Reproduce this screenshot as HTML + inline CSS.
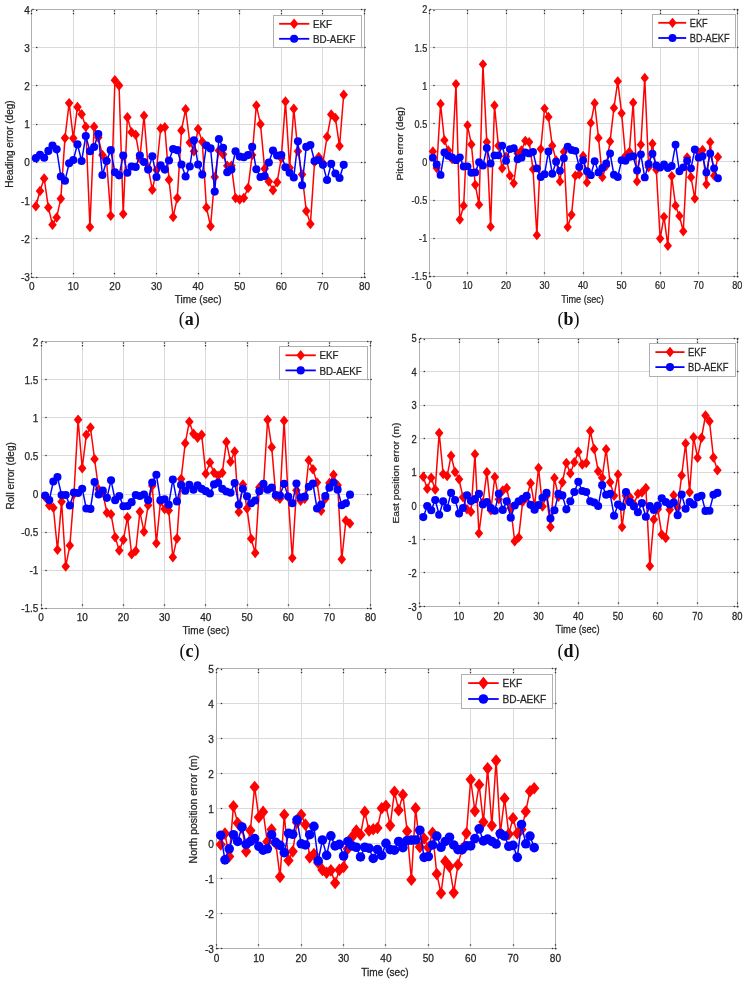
<!DOCTYPE html>
<html lang="en">
<head>
<meta charset="utf-8">
<title>EKF vs BD-AEKF error plots</title>
<style>html,body{margin:0;padding:0;background:#fff}svg{display:block}</style>
</head>
<body>
<svg width="748" height="982" viewBox="0 0 748 982">
<rect x="0" y="0" width="748" height="982" fill="#ffffff"/>
<g opacity="0.999">
<g id="plot-a">
<path d="M73.5 9.5V277M114.5 9.5V277M156.5 9.5V277M198.5 9.5V277M239.5 9.5V277M281.5 9.5V277M322.5 9.5V277M31.7 238.5H364.5M31.7 200.5H364.5M31.7 162.5H364.5M31.7 124.5H364.5M31.7 85.5H364.5M31.7 47.5H364.5" stroke="#dadada" stroke-width="1" fill="none"/>
<rect x="31.5" y="9.5" width="333" height="268" fill="none" stroke="#b0b0b0" stroke-width="1"/>
<g fill="#2e2e2e"><rect x="30.85" y="10.25" width="1.3" height="1.3"/><rect x="30.85" y="12.95" width="1.3" height="1.3"/><rect x="30.85" y="272.95" width="1.3" height="1.3"/><rect x="30.85" y="276.65" width="1.3" height="1.3"/><rect x="72.85" y="10.25" width="1.3" height="1.3"/><rect x="72.85" y="12.95" width="1.3" height="1.3"/><rect x="72.85" y="272.95" width="1.3" height="1.3"/><rect x="113.85" y="10.25" width="1.3" height="1.3"/><rect x="113.85" y="12.95" width="1.3" height="1.3"/><rect x="113.85" y="272.95" width="1.3" height="1.3"/><rect x="155.85" y="10.25" width="1.3" height="1.3"/><rect x="155.85" y="12.95" width="1.3" height="1.3"/><rect x="155.85" y="272.95" width="1.3" height="1.3"/><rect x="197.85" y="10.25" width="1.3" height="1.3"/><rect x="197.85" y="12.95" width="1.3" height="1.3"/><rect x="197.85" y="272.95" width="1.3" height="1.3"/><rect x="238.85" y="10.25" width="1.3" height="1.3"/><rect x="238.85" y="12.95" width="1.3" height="1.3"/><rect x="238.85" y="272.95" width="1.3" height="1.3"/><rect x="280.85" y="10.25" width="1.3" height="1.3"/><rect x="280.85" y="12.95" width="1.3" height="1.3"/><rect x="280.85" y="272.95" width="1.3" height="1.3"/><rect x="321.85" y="10.25" width="1.3" height="1.3"/><rect x="321.85" y="12.95" width="1.3" height="1.3"/><rect x="321.85" y="272.95" width="1.3" height="1.3"/><rect x="363.85" y="10.25" width="1.3" height="1.3"/><rect x="363.85" y="12.95" width="1.3" height="1.3"/><rect x="363.85" y="272.95" width="1.3" height="1.3"/><rect x="363.85" y="276.65" width="1.3" height="1.3"/><rect x="36.05" y="276.85" width="1.3" height="1.3"/><rect x="32.35" y="276.85" width="1.3" height="1.3"/><rect x="360.95" y="276.85" width="1.3" height="1.3"/><rect x="364.35" y="276.85" width="1.3" height="1.3"/><rect x="36.05" y="237.85" width="1.3" height="1.3"/><rect x="360.95" y="237.85" width="1.3" height="1.3"/><rect x="364.35" y="237.85" width="1.3" height="1.3"/><rect x="36.05" y="199.85" width="1.3" height="1.3"/><rect x="360.95" y="199.85" width="1.3" height="1.3"/><rect x="364.35" y="199.85" width="1.3" height="1.3"/><rect x="36.05" y="161.85" width="1.3" height="1.3"/><rect x="360.95" y="161.85" width="1.3" height="1.3"/><rect x="364.35" y="161.85" width="1.3" height="1.3"/><rect x="36.05" y="123.85" width="1.3" height="1.3"/><rect x="360.95" y="123.85" width="1.3" height="1.3"/><rect x="364.35" y="123.85" width="1.3" height="1.3"/><rect x="36.05" y="84.85" width="1.3" height="1.3"/><rect x="360.95" y="84.85" width="1.3" height="1.3"/><rect x="364.35" y="84.85" width="1.3" height="1.3"/><rect x="36.05" y="46.85" width="1.3" height="1.3"/><rect x="360.95" y="46.85" width="1.3" height="1.3"/><rect x="364.35" y="46.85" width="1.3" height="1.3"/><rect x="36.05" y="9.85" width="1.3" height="1.3"/><rect x="32.35" y="8.85" width="1.3" height="1.3"/><rect x="360.95" y="8.85" width="1.3" height="1.3"/><rect x="364.35" y="8.85" width="1.3" height="1.3"/></g>
<text transform="translate(31.7 289.6) scale(1.000 1.000)" font-family='"Liberation Sans", Arial, Helvetica, sans-serif' font-size="10" font-weight="normal" text-anchor="middle" fill="#262626" stroke="#262626" stroke-width="0.25">0</text>
<text transform="translate(73.3 289.6) scale(1.000 1.000)" font-family='"Liberation Sans", Arial, Helvetica, sans-serif' font-size="10" font-weight="normal" text-anchor="middle" fill="#262626" stroke="#262626" stroke-width="0.25">10</text>
<text transform="translate(114.9 289.6) scale(1.000 1.000)" font-family='"Liberation Sans", Arial, Helvetica, sans-serif' font-size="10" font-weight="normal" text-anchor="middle" fill="#262626" stroke="#262626" stroke-width="0.25">20</text>
<text transform="translate(156.5 289.6) scale(1.000 1.000)" font-family='"Liberation Sans", Arial, Helvetica, sans-serif' font-size="10" font-weight="normal" text-anchor="middle" fill="#262626" stroke="#262626" stroke-width="0.25">30</text>
<text transform="translate(198.1 289.6) scale(1.000 1.000)" font-family='"Liberation Sans", Arial, Helvetica, sans-serif' font-size="10" font-weight="normal" text-anchor="middle" fill="#262626" stroke="#262626" stroke-width="0.25">40</text>
<text transform="translate(239.7 289.6) scale(1.000 1.000)" font-family='"Liberation Sans", Arial, Helvetica, sans-serif' font-size="10" font-weight="normal" text-anchor="middle" fill="#262626" stroke="#262626" stroke-width="0.25">50</text>
<text transform="translate(281.3 289.6) scale(1.000 1.000)" font-family='"Liberation Sans", Arial, Helvetica, sans-serif' font-size="10" font-weight="normal" text-anchor="middle" fill="#262626" stroke="#262626" stroke-width="0.25">60</text>
<text transform="translate(322.9 289.6) scale(1.000 1.000)" font-family='"Liberation Sans", Arial, Helvetica, sans-serif' font-size="10" font-weight="normal" text-anchor="middle" fill="#262626" stroke="#262626" stroke-width="0.25">70</text>
<text transform="translate(364.5 289.6) scale(1.000 1.000)" font-family='"Liberation Sans", Arial, Helvetica, sans-serif' font-size="10" font-weight="normal" text-anchor="middle" fill="#262626" stroke="#262626" stroke-width="0.25">80</text>
<text transform="translate(29.8 281.08) scale(1.000 1.000)" font-family='"Liberation Sans", Arial, Helvetica, sans-serif' font-size="10" font-weight="normal" text-anchor="end" fill="#262626" stroke="#262626" stroke-width="0.25">-3</text>
<text transform="translate(29.8 242.87) scale(1.000 1.000)" font-family='"Liberation Sans", Arial, Helvetica, sans-serif' font-size="10" font-weight="normal" text-anchor="end" fill="#262626" stroke="#262626" stroke-width="0.25">-2</text>
<text transform="translate(29.8 204.65) scale(1.000 1.000)" font-family='"Liberation Sans", Arial, Helvetica, sans-serif' font-size="10" font-weight="normal" text-anchor="end" fill="#262626" stroke="#262626" stroke-width="0.25">-1</text>
<text transform="translate(29.8 166.44) scale(1.000 1.000)" font-family='"Liberation Sans", Arial, Helvetica, sans-serif' font-size="10" font-weight="normal" text-anchor="end" fill="#262626" stroke="#262626" stroke-width="0.25">0</text>
<text transform="translate(29.8 128.22) scale(1.000 1.000)" font-family='"Liberation Sans", Arial, Helvetica, sans-serif' font-size="10" font-weight="normal" text-anchor="end" fill="#262626" stroke="#262626" stroke-width="0.25">1</text>
<text transform="translate(29.8 90.01) scale(1.000 1.000)" font-family='"Liberation Sans", Arial, Helvetica, sans-serif' font-size="10" font-weight="normal" text-anchor="end" fill="#262626" stroke="#262626" stroke-width="0.25">2</text>
<text transform="translate(29.8 51.79) scale(1.000 1.000)" font-family='"Liberation Sans", Arial, Helvetica, sans-serif' font-size="10" font-weight="normal" text-anchor="end" fill="#262626" stroke="#262626" stroke-width="0.25">3</text>
<text transform="translate(29.8 13.58) scale(1.000 1.000)" font-family='"Liberation Sans", Arial, Helvetica, sans-serif' font-size="10" font-weight="normal" text-anchor="end" fill="#262626" stroke="#262626" stroke-width="0.25">4</text>
<text transform="translate(198.1 302.9) scale(1.000 1.000)" font-family='"Liberation Sans", Arial, Helvetica, sans-serif' font-size="10" font-weight="normal" text-anchor="middle" fill="#262626" stroke="#262626" stroke-width="0.25">Time (sec)</text>
<text transform="translate(13.2 144.05) rotate(-90) scale(1.000 1.000)" font-family='"Liberation Sans", Arial, Helvetica, sans-serif' font-size="10" text-anchor="middle" fill="#262626" stroke="#262626" stroke-width="0.25">Heading error (deg)</text>
<polyline points="35.86,206.3 40.02,191.02 44.18,178.41 48.34,207.45 52.5,224.84 56.66,217.39 60.82,198.66 64.98,137.9 69.14,103.12 73.3,138.28 77.46,106.95 81.62,114.21 85.78,126.82 89.94,226.94 94.1,126.82 98.26,137.52 102.42,155.1 106.58,160.45 110.74,215.86 114.9,80.2 119.06,85.55 123.22,213.95 127.38,117.26 131.54,132.17 135.7,134.84 139.86,158.54 144.02,115.74 148.18,168.09 152.34,189.87 156.5,170 160.66,128.54 164.82,127.2 168.98,179.74 173.14,217 177.3,197.9 181.46,130.45 185.62,109.24 189.78,142.49 193.94,151.27 198.1,129.11 202.26,141.72 206.42,207.45 210.58,226.37 214.74,177.07 218.9,150.51 223.06,154.33 227.22,165.8 231.38,165.8 235.54,197.9 239.7,199.42 243.86,197.9 248.02,187.96 252.18,155.1 256.34,105.42 260.5,124.14 264.66,168.85 268.82,181.46 272.98,190.25 277.14,182.23 281.3,158.15 285.46,101.6 289.62,167.71 293.78,108.86 297.94,151.27 302.1,174.59 306.26,210.89 310.42,223.88 314.58,161.98 318.74,157.01 322.9,163.12 327.06,136.75 331.22,114.59 335.38,118.03 339.54,146.12 343.7,94.72" fill="none" stroke="#ff0000" stroke-width="1.5" stroke-linejoin="round"/>
<path d="M35.86 201.05L40.13 206.3L35.86 211.55L31.59 206.3Z" fill="#ff0000"/><path d="M40.02 185.77L44.29 191.02L40.02 196.27L35.74 191.02Z" fill="#ff0000"/><path d="M44.18 173.16L48.45 178.41L44.18 183.66L39.91 178.41Z" fill="#ff0000"/><path d="M48.34 202.2L52.62 207.45L48.34 212.7L44.07 207.45Z" fill="#ff0000"/><path d="M52.5 219.59L56.77 224.84L52.5 230.09L48.23 224.84Z" fill="#ff0000"/><path d="M56.66 212.14L60.93 217.39L56.66 222.64L52.38 217.39Z" fill="#ff0000"/><path d="M60.82 193.41L65.09 198.66L60.82 203.91L56.54 198.66Z" fill="#ff0000"/><path d="M64.98 132.65L69.26 137.9L64.98 143.15L60.71 137.9Z" fill="#ff0000"/><path d="M69.14 97.88L73.42 103.12L69.14 108.38L64.86 103.12Z" fill="#ff0000"/><path d="M73.3 133.03L77.58 138.28L73.3 143.53L69.02 138.28Z" fill="#ff0000"/><path d="M77.46 101.7L81.74 106.95L77.46 112.2L73.19 106.95Z" fill="#ff0000"/><path d="M81.62 108.96L85.9 114.21L81.62 119.46L77.34 114.21Z" fill="#ff0000"/><path d="M85.78 121.57L90.06 126.82L85.78 132.07L81.5 126.82Z" fill="#ff0000"/><path d="M89.94 221.69L94.22 226.94L89.94 232.19L85.66 226.94Z" fill="#ff0000"/><path d="M94.1 121.57L98.38 126.82L94.1 132.07L89.82 126.82Z" fill="#ff0000"/><path d="M98.26 132.27L102.54 137.52L98.26 142.77L93.98 137.52Z" fill="#ff0000"/><path d="M102.42 149.85L106.7 155.1L102.42 160.35L98.14 155.1Z" fill="#ff0000"/><path d="M106.58 155.2L110.86 160.45L106.58 165.7L102.31 160.45Z" fill="#ff0000"/><path d="M110.74 210.61L115.02 215.86L110.74 221.11L106.46 215.86Z" fill="#ff0000"/><path d="M114.9 74.95L119.18 80.2L114.9 85.45L110.62 80.2Z" fill="#ff0000"/><path d="M119.06 80.3L123.34 85.55L119.06 90.8L114.78 85.55Z" fill="#ff0000"/><path d="M123.22 208.7L127.5 213.95L123.22 219.2L118.95 213.95Z" fill="#ff0000"/><path d="M127.38 112.01L131.66 117.26L127.38 122.51L123.11 117.26Z" fill="#ff0000"/><path d="M131.54 126.92L135.81 132.17L131.54 137.42L127.26 132.17Z" fill="#ff0000"/><path d="M135.7 129.59L139.97 134.84L135.7 140.09L131.42 134.84Z" fill="#ff0000"/><path d="M139.86 153.29L144.14 158.54L139.86 163.79L135.59 158.54Z" fill="#ff0000"/><path d="M144.02 110.49L148.3 115.74L144.02 120.99L139.75 115.74Z" fill="#ff0000"/><path d="M148.18 162.84L152.45 168.09L148.18 173.34L143.9 168.09Z" fill="#ff0000"/><path d="M152.34 184.62L156.62 189.87L152.34 195.12L148.06 189.87Z" fill="#ff0000"/><path d="M156.5 164.75L160.78 170L156.5 175.25L152.22 170Z" fill="#ff0000"/><path d="M160.66 123.29L164.94 128.54L160.66 133.79L156.38 128.54Z" fill="#ff0000"/><path d="M164.82 121.95L169.09 127.2L164.82 132.45L160.54 127.2Z" fill="#ff0000"/><path d="M168.98 174.49L173.25 179.74L168.98 184.99L164.7 179.74Z" fill="#ff0000"/><path d="M173.14 211.75L177.41 217L173.14 222.25L168.86 217Z" fill="#ff0000"/><path d="M177.3 192.65L181.57 197.9L177.3 203.15L173.02 197.9Z" fill="#ff0000"/><path d="M181.46 125.2L185.74 130.45L181.46 135.7L177.19 130.45Z" fill="#ff0000"/><path d="M185.62 103.99L189.9 109.24L185.62 114.49L181.34 109.24Z" fill="#ff0000"/><path d="M189.78 137.24L194.05 142.49L189.78 147.74L185.5 142.49Z" fill="#ff0000"/><path d="M193.94 146.02L198.22 151.27L193.94 156.52L189.66 151.27Z" fill="#ff0000"/><path d="M198.1 123.86L202.38 129.11L198.1 134.36L193.82 129.11Z" fill="#ff0000"/><path d="M202.26 136.47L206.53 141.72L202.26 146.97L197.98 141.72Z" fill="#ff0000"/><path d="M206.42 202.2L210.69 207.45L206.42 212.7L202.14 207.45Z" fill="#ff0000"/><path d="M210.58 221.12L214.85 226.37L210.58 231.62L206.3 226.37Z" fill="#ff0000"/><path d="M214.74 171.82L219.02 177.07L214.74 182.32L210.47 177.07Z" fill="#ff0000"/><path d="M218.9 145.26L223.17 150.51L218.9 155.76L214.62 150.51Z" fill="#ff0000"/><path d="M223.06 149.08L227.34 154.33L223.06 159.58L218.78 154.33Z" fill="#ff0000"/><path d="M227.22 160.55L231.5 165.8L227.22 171.05L222.94 165.8Z" fill="#ff0000"/><path d="M231.38 160.55L235.66 165.8L231.38 171.05L227.1 165.8Z" fill="#ff0000"/><path d="M235.54 192.65L239.81 197.9L235.54 203.15L231.26 197.9Z" fill="#ff0000"/><path d="M239.7 194.17L243.97 199.42L239.7 204.67L235.42 199.42Z" fill="#ff0000"/><path d="M243.86 192.65L248.13 197.9L243.86 203.15L239.58 197.9Z" fill="#ff0000"/><path d="M248.02 182.71L252.3 187.96L248.02 193.21L243.75 187.96Z" fill="#ff0000"/><path d="M252.18 149.85L256.45 155.1L252.18 160.35L247.91 155.1Z" fill="#ff0000"/><path d="M256.34 100.17L260.62 105.42L256.34 110.67L252.07 105.42Z" fill="#ff0000"/><path d="M260.5 118.89L264.77 124.14L260.5 129.39L256.23 124.14Z" fill="#ff0000"/><path d="M264.66 163.6L268.93 168.85L264.66 174.1L260.38 168.85Z" fill="#ff0000"/><path d="M268.82 176.21L273.1 181.46L268.82 186.71L264.55 181.46Z" fill="#ff0000"/><path d="M272.98 185L277.25 190.25L272.98 195.5L268.71 190.25Z" fill="#ff0000"/><path d="M277.14 176.98L281.41 182.23L277.14 187.48L272.87 182.23Z" fill="#ff0000"/><path d="M281.3 152.9L285.57 158.15L281.3 163.4L277.03 158.15Z" fill="#ff0000"/><path d="M285.46 96.35L289.73 101.6L285.46 106.85L281.19 101.6Z" fill="#ff0000"/><path d="M289.62 162.46L293.89 167.71L289.62 172.96L285.35 167.71Z" fill="#ff0000"/><path d="M293.78 103.61L298.06 108.86L293.78 114.11L289.51 108.86Z" fill="#ff0000"/><path d="M297.94 146.02L302.21 151.27L297.94 156.52L293.67 151.27Z" fill="#ff0000"/><path d="M302.1 169.34L306.37 174.59L302.1 179.84L297.82 174.59Z" fill="#ff0000"/><path d="M306.26 205.64L310.53 210.89L306.26 216.14L301.99 210.89Z" fill="#ff0000"/><path d="M310.42 218.63L314.69 223.88L310.42 229.13L306.15 223.88Z" fill="#ff0000"/><path d="M314.58 156.73L318.85 161.98L314.58 167.23L310.31 161.98Z" fill="#ff0000"/><path d="M318.74 151.76L323.01 157.01L318.74 162.26L314.47 157.01Z" fill="#ff0000"/><path d="M322.9 157.87L327.17 163.12L322.9 168.37L318.62 163.12Z" fill="#ff0000"/><path d="M327.06 131.5L331.33 136.75L327.06 142L322.79 136.75Z" fill="#ff0000"/><path d="M331.22 109.34L335.5 114.59L331.22 119.84L326.95 114.59Z" fill="#ff0000"/><path d="M335.38 112.78L339.65 118.03L335.38 123.28L331.11 118.03Z" fill="#ff0000"/><path d="M339.54 140.87L343.81 146.12L339.54 151.37L335.27 146.12Z" fill="#ff0000"/><path d="M343.7 89.47L347.97 94.72L343.7 99.97L339.43 94.72Z" fill="#ff0000"/>
<polyline points="35.86,158.15 40.02,154.71 44.18,157.77 48.34,150.89 52.5,145.54 56.66,149.36 60.82,176.5 64.98,180.7 69.14,163.31 73.3,160.06 77.46,144.4 81.62,161.02 85.78,135.99 89.94,151.27 94.1,147.07 98.26,134.08 102.42,174.97 106.58,161.02 110.74,150.13 114.9,172.29 119.06,175.35 123.22,155.48 127.38,172.68 131.54,166.56 135.7,166.94 139.86,155.48 144.02,161.98 148.18,169.62 152.34,156.24 156.5,177.07 160.66,165.41 164.82,169.62 168.98,160.45 173.14,148.98 177.3,150.13 181.46,164.46 185.62,176.5 189.78,166.56 193.94,140.19 198.1,164.46 202.26,174.59 206.42,145.54 210.58,148.41 214.74,191.59 218.9,139.05 223.06,147.84 227.22,172.29 231.38,169.62 235.54,151.27 239.7,156.62 243.86,157.2 248.02,155.1 252.18,146.88 256.34,169.24 260.5,177.07 264.66,176.11 268.82,162.55 272.98,150.51 277.14,155.48 281.3,155.1 285.46,167.32 289.62,172.68 293.78,177.45 297.94,141.34 302.1,185.29 306.26,146.88 310.42,144.97 314.58,161.02 318.74,160.06 322.9,164.84 327.06,179.94 331.22,163.89 335.38,173.44 339.54,178.03 343.7,164.84" fill="none" stroke="#0000ff" stroke-width="1.5" stroke-linejoin="round"/>
<circle cx="35.86" cy="158.15" r="4.05" fill="#0000ff"/><circle cx="40.02" cy="154.71" r="4.05" fill="#0000ff"/><circle cx="44.18" cy="157.77" r="4.05" fill="#0000ff"/><circle cx="48.34" cy="150.89" r="4.05" fill="#0000ff"/><circle cx="52.5" cy="145.54" r="4.05" fill="#0000ff"/><circle cx="56.66" cy="149.36" r="4.05" fill="#0000ff"/><circle cx="60.82" cy="176.5" r="4.05" fill="#0000ff"/><circle cx="64.98" cy="180.7" r="4.05" fill="#0000ff"/><circle cx="69.14" cy="163.31" r="4.05" fill="#0000ff"/><circle cx="73.3" cy="160.06" r="4.05" fill="#0000ff"/><circle cx="77.46" cy="144.4" r="4.05" fill="#0000ff"/><circle cx="81.62" cy="161.02" r="4.05" fill="#0000ff"/><circle cx="85.78" cy="135.99" r="4.05" fill="#0000ff"/><circle cx="89.94" cy="151.27" r="4.05" fill="#0000ff"/><circle cx="94.1" cy="147.07" r="4.05" fill="#0000ff"/><circle cx="98.26" cy="134.08" r="4.05" fill="#0000ff"/><circle cx="102.42" cy="174.97" r="4.05" fill="#0000ff"/><circle cx="106.58" cy="161.02" r="4.05" fill="#0000ff"/><circle cx="110.74" cy="150.13" r="4.05" fill="#0000ff"/><circle cx="114.9" cy="172.29" r="4.05" fill="#0000ff"/><circle cx="119.06" cy="175.35" r="4.05" fill="#0000ff"/><circle cx="123.22" cy="155.48" r="4.05" fill="#0000ff"/><circle cx="127.38" cy="172.68" r="4.05" fill="#0000ff"/><circle cx="131.54" cy="166.56" r="4.05" fill="#0000ff"/><circle cx="135.7" cy="166.94" r="4.05" fill="#0000ff"/><circle cx="139.86" cy="155.48" r="4.05" fill="#0000ff"/><circle cx="144.02" cy="161.98" r="4.05" fill="#0000ff"/><circle cx="148.18" cy="169.62" r="4.05" fill="#0000ff"/><circle cx="152.34" cy="156.24" r="4.05" fill="#0000ff"/><circle cx="156.5" cy="177.07" r="4.05" fill="#0000ff"/><circle cx="160.66" cy="165.41" r="4.05" fill="#0000ff"/><circle cx="164.82" cy="169.62" r="4.05" fill="#0000ff"/><circle cx="168.98" cy="160.45" r="4.05" fill="#0000ff"/><circle cx="173.14" cy="148.98" r="4.05" fill="#0000ff"/><circle cx="177.3" cy="150.13" r="4.05" fill="#0000ff"/><circle cx="181.46" cy="164.46" r="4.05" fill="#0000ff"/><circle cx="185.62" cy="176.5" r="4.05" fill="#0000ff"/><circle cx="189.78" cy="166.56" r="4.05" fill="#0000ff"/><circle cx="193.94" cy="140.19" r="4.05" fill="#0000ff"/><circle cx="198.1" cy="164.46" r="4.05" fill="#0000ff"/><circle cx="202.26" cy="174.59" r="4.05" fill="#0000ff"/><circle cx="206.42" cy="145.54" r="4.05" fill="#0000ff"/><circle cx="210.58" cy="148.41" r="4.05" fill="#0000ff"/><circle cx="214.74" cy="191.59" r="4.05" fill="#0000ff"/><circle cx="218.9" cy="139.05" r="4.05" fill="#0000ff"/><circle cx="223.06" cy="147.84" r="4.05" fill="#0000ff"/><circle cx="227.22" cy="172.29" r="4.05" fill="#0000ff"/><circle cx="231.38" cy="169.62" r="4.05" fill="#0000ff"/><circle cx="235.54" cy="151.27" r="4.05" fill="#0000ff"/><circle cx="239.7" cy="156.62" r="4.05" fill="#0000ff"/><circle cx="243.86" cy="157.2" r="4.05" fill="#0000ff"/><circle cx="248.02" cy="155.1" r="4.05" fill="#0000ff"/><circle cx="252.18" cy="146.88" r="4.05" fill="#0000ff"/><circle cx="256.34" cy="169.24" r="4.05" fill="#0000ff"/><circle cx="260.5" cy="177.07" r="4.05" fill="#0000ff"/><circle cx="264.66" cy="176.11" r="4.05" fill="#0000ff"/><circle cx="268.82" cy="162.55" r="4.05" fill="#0000ff"/><circle cx="272.98" cy="150.51" r="4.05" fill="#0000ff"/><circle cx="277.14" cy="155.48" r="4.05" fill="#0000ff"/><circle cx="281.3" cy="155.1" r="4.05" fill="#0000ff"/><circle cx="285.46" cy="167.32" r="4.05" fill="#0000ff"/><circle cx="289.62" cy="172.68" r="4.05" fill="#0000ff"/><circle cx="293.78" cy="177.45" r="4.05" fill="#0000ff"/><circle cx="297.94" cy="141.34" r="4.05" fill="#0000ff"/><circle cx="302.1" cy="185.29" r="4.05" fill="#0000ff"/><circle cx="306.26" cy="146.88" r="4.05" fill="#0000ff"/><circle cx="310.42" cy="144.97" r="4.05" fill="#0000ff"/><circle cx="314.58" cy="161.02" r="4.05" fill="#0000ff"/><circle cx="318.74" cy="160.06" r="4.05" fill="#0000ff"/><circle cx="322.9" cy="164.84" r="4.05" fill="#0000ff"/><circle cx="327.06" cy="179.94" r="4.05" fill="#0000ff"/><circle cx="331.22" cy="163.89" r="4.05" fill="#0000ff"/><circle cx="335.38" cy="173.44" r="4.05" fill="#0000ff"/><circle cx="339.54" cy="178.03" r="4.05" fill="#0000ff"/><circle cx="343.7" cy="164.84" r="4.05" fill="#0000ff"/>
<rect x="273.5" y="15.5" width="88" height="32" fill="#ffffff" stroke="#b0b0b0" stroke-width="1"/>
<path d="M279.1 23.8H309.3" stroke="#ff0000" stroke-width="1.8"/>
<path d="M294.1 18.55L298.38 23.8L294.1 29.05L289.83 23.8Z" fill="#ff0000"/>
<path d="M279.1 38.8H309.3" stroke="#0000ff" stroke-width="1.8"/>
<circle cx="294.1" cy="38.8" r="4.05" fill="#0000ff"/>
<text transform="translate(313 27.93) scale(0.980 1.000)" font-family='"Liberation Sans", Arial, Helvetica, sans-serif' font-size="10" font-weight="normal" text-anchor="start" fill="#262626" stroke="#262626" stroke-width="0.25">EKF</text>
<text transform="translate(313 42.93) scale(0.980 1.000)" font-family='"Liberation Sans", Arial, Helvetica, sans-serif' font-size="10" font-weight="normal" text-anchor="start" fill="#262626" stroke="#262626" stroke-width="0.25">BD-AEKF</text>
<text x="189.3" y="324.5" font-family='"Liberation Serif", "Times New Roman", serif' font-size="18" text-anchor="middle" fill="#111111">(<tspan font-weight="bold">a</tspan>)</text>
</g>
<g id="plot-b">
<path d="M467.5 9.3V276.4M506.5 9.3V276.4M544.5 9.3V276.4M583.5 9.3V276.4M621.5 9.3V276.4M660.5 9.3V276.4M698.5 9.3V276.4M429 238.5H737.2M429 200.5H737.2M429 161.5H737.2M429 123.5H737.2M429 85.5H737.2M429 47.5H737.2" stroke="#dadada" stroke-width="1" fill="none"/>
<rect x="429.5" y="9.5" width="308" height="267" fill="none" stroke="#b0b0b0" stroke-width="1"/>
<g fill="#2e2e2e"><rect x="428.85" y="10.05" width="1.3" height="1.3"/><rect x="428.85" y="12.75" width="1.3" height="1.3"/><rect x="428.85" y="272.35" width="1.3" height="1.3"/><rect x="428.85" y="276.05" width="1.3" height="1.3"/><rect x="466.85" y="10.05" width="1.3" height="1.3"/><rect x="466.85" y="12.75" width="1.3" height="1.3"/><rect x="466.85" y="272.35" width="1.3" height="1.3"/><rect x="505.85" y="10.05" width="1.3" height="1.3"/><rect x="505.85" y="12.75" width="1.3" height="1.3"/><rect x="505.85" y="272.35" width="1.3" height="1.3"/><rect x="543.85" y="10.05" width="1.3" height="1.3"/><rect x="543.85" y="12.75" width="1.3" height="1.3"/><rect x="543.85" y="272.35" width="1.3" height="1.3"/><rect x="582.85" y="10.05" width="1.3" height="1.3"/><rect x="582.85" y="12.75" width="1.3" height="1.3"/><rect x="582.85" y="272.35" width="1.3" height="1.3"/><rect x="620.85" y="10.05" width="1.3" height="1.3"/><rect x="620.85" y="12.75" width="1.3" height="1.3"/><rect x="620.85" y="272.35" width="1.3" height="1.3"/><rect x="659.85" y="10.05" width="1.3" height="1.3"/><rect x="659.85" y="12.75" width="1.3" height="1.3"/><rect x="659.85" y="272.35" width="1.3" height="1.3"/><rect x="697.85" y="10.05" width="1.3" height="1.3"/><rect x="697.85" y="12.75" width="1.3" height="1.3"/><rect x="697.85" y="272.35" width="1.3" height="1.3"/><rect x="736.85" y="10.05" width="1.3" height="1.3"/><rect x="736.85" y="12.75" width="1.3" height="1.3"/><rect x="736.85" y="272.35" width="1.3" height="1.3"/><rect x="736.85" y="276.05" width="1.3" height="1.3"/><rect x="433.35" y="275.85" width="1.3" height="1.3"/><rect x="429.65" y="275.85" width="1.3" height="1.3"/><rect x="733.65" y="275.85" width="1.3" height="1.3"/><rect x="737.05" y="275.85" width="1.3" height="1.3"/><rect x="433.35" y="237.85" width="1.3" height="1.3"/><rect x="733.65" y="237.85" width="1.3" height="1.3"/><rect x="737.05" y="237.85" width="1.3" height="1.3"/><rect x="433.35" y="199.85" width="1.3" height="1.3"/><rect x="733.65" y="199.85" width="1.3" height="1.3"/><rect x="737.05" y="199.85" width="1.3" height="1.3"/><rect x="433.35" y="160.85" width="1.3" height="1.3"/><rect x="733.65" y="160.85" width="1.3" height="1.3"/><rect x="737.05" y="160.85" width="1.3" height="1.3"/><rect x="433.35" y="122.85" width="1.3" height="1.3"/><rect x="733.65" y="122.85" width="1.3" height="1.3"/><rect x="737.05" y="122.85" width="1.3" height="1.3"/><rect x="433.35" y="84.85" width="1.3" height="1.3"/><rect x="733.65" y="84.85" width="1.3" height="1.3"/><rect x="737.05" y="84.85" width="1.3" height="1.3"/><rect x="433.35" y="46.85" width="1.3" height="1.3"/><rect x="733.65" y="46.85" width="1.3" height="1.3"/><rect x="737.05" y="46.85" width="1.3" height="1.3"/><rect x="433.35" y="9.85" width="1.3" height="1.3"/><rect x="429.65" y="8.85" width="1.3" height="1.3"/><rect x="733.65" y="8.85" width="1.3" height="1.3"/><rect x="737.05" y="8.85" width="1.3" height="1.3"/></g>
<text transform="translate(429 289.2) scale(0.910 1.000)" font-family='"Liberation Sans", Arial, Helvetica, sans-serif' font-size="10" font-weight="normal" text-anchor="middle" fill="#262626" stroke="#262626" stroke-width="0.25">0</text>
<text transform="translate(467.52 289.2) scale(0.910 1.000)" font-family='"Liberation Sans", Arial, Helvetica, sans-serif' font-size="10" font-weight="normal" text-anchor="middle" fill="#262626" stroke="#262626" stroke-width="0.25">10</text>
<text transform="translate(506.05 289.2) scale(0.910 1.000)" font-family='"Liberation Sans", Arial, Helvetica, sans-serif' font-size="10" font-weight="normal" text-anchor="middle" fill="#262626" stroke="#262626" stroke-width="0.25">20</text>
<text transform="translate(544.58 289.2) scale(0.910 1.000)" font-family='"Liberation Sans", Arial, Helvetica, sans-serif' font-size="10" font-weight="normal" text-anchor="middle" fill="#262626" stroke="#262626" stroke-width="0.25">30</text>
<text transform="translate(583.1 289.2) scale(0.910 1.000)" font-family='"Liberation Sans", Arial, Helvetica, sans-serif' font-size="10" font-weight="normal" text-anchor="middle" fill="#262626" stroke="#262626" stroke-width="0.25">40</text>
<text transform="translate(621.62 289.2) scale(0.910 1.000)" font-family='"Liberation Sans", Arial, Helvetica, sans-serif' font-size="10" font-weight="normal" text-anchor="middle" fill="#262626" stroke="#262626" stroke-width="0.25">50</text>
<text transform="translate(660.15 289.2) scale(0.910 1.000)" font-family='"Liberation Sans", Arial, Helvetica, sans-serif' font-size="10" font-weight="normal" text-anchor="middle" fill="#262626" stroke="#262626" stroke-width="0.25">60</text>
<text transform="translate(698.68 289.2) scale(0.910 1.000)" font-family='"Liberation Sans", Arial, Helvetica, sans-serif' font-size="10" font-weight="normal" text-anchor="middle" fill="#262626" stroke="#262626" stroke-width="0.25">70</text>
<text transform="translate(737.2 289.2) scale(0.910 1.000)" font-family='"Liberation Sans", Arial, Helvetica, sans-serif' font-size="10" font-weight="normal" text-anchor="middle" fill="#262626" stroke="#262626" stroke-width="0.25">80</text>
<text transform="translate(427.2 280.48) scale(0.910 1.000)" font-family='"Liberation Sans", Arial, Helvetica, sans-serif' font-size="10" font-weight="normal" text-anchor="end" fill="#262626" stroke="#262626" stroke-width="0.25">-1.5</text>
<text transform="translate(427.2 242.32) scale(0.910 1.000)" font-family='"Liberation Sans", Arial, Helvetica, sans-serif' font-size="10" font-weight="normal" text-anchor="end" fill="#262626" stroke="#262626" stroke-width="0.25">-1</text>
<text transform="translate(427.2 204.17) scale(0.910 1.000)" font-family='"Liberation Sans", Arial, Helvetica, sans-serif' font-size="10" font-weight="normal" text-anchor="end" fill="#262626" stroke="#262626" stroke-width="0.25">-0.5</text>
<text transform="translate(427.2 166.01) scale(0.910 1.000)" font-family='"Liberation Sans", Arial, Helvetica, sans-serif' font-size="10" font-weight="normal" text-anchor="end" fill="#262626" stroke="#262626" stroke-width="0.25">0</text>
<text transform="translate(427.2 127.85) scale(0.910 1.000)" font-family='"Liberation Sans", Arial, Helvetica, sans-serif' font-size="10" font-weight="normal" text-anchor="end" fill="#262626" stroke="#262626" stroke-width="0.25">0.5</text>
<text transform="translate(427.2 89.69) scale(0.910 1.000)" font-family='"Liberation Sans", Arial, Helvetica, sans-serif' font-size="10" font-weight="normal" text-anchor="end" fill="#262626" stroke="#262626" stroke-width="0.25">1</text>
<text transform="translate(427.2 51.54) scale(0.910 1.000)" font-family='"Liberation Sans", Arial, Helvetica, sans-serif' font-size="10" font-weight="normal" text-anchor="end" fill="#262626" stroke="#262626" stroke-width="0.25">1.5</text>
<text transform="translate(427.2 13.38) scale(0.910 1.000)" font-family='"Liberation Sans", Arial, Helvetica, sans-serif' font-size="10" font-weight="normal" text-anchor="end" fill="#262626" stroke="#262626" stroke-width="0.25">2</text>
<text transform="translate(582.6 302.6) scale(0.910 1.000)" font-family='"Liberation Sans", Arial, Helvetica, sans-serif' font-size="10" font-weight="normal" text-anchor="middle" fill="#262626" stroke="#262626" stroke-width="0.25">Time (sec)</text>
<text transform="translate(402.6 143.65) rotate(-90) scale(1.020 0.910)" font-family='"Liberation Sans", Arial, Helvetica, sans-serif' font-size="10" text-anchor="middle" fill="#262626" stroke="#262626" stroke-width="0.25">Pitch error (deg)</text>
<polyline points="432.85,151.47 436.7,168.03 440.56,103.93 444.41,140.18 448.26,150.48 452.12,159.26 455.97,84.09 459.82,219.62 463.67,205.73 467.52,125.3 471.38,144.38 475.23,184.82 479.08,204.66 482.94,64.25 486.79,142.09 490.64,226.64 494.49,105.46 498.35,145.67 502.2,168.34 506.05,156.59 509.9,175.67 513.75,183.3 517.61,153.53 521.46,150.48 525.31,140.79 529.16,142.09 533.02,169.25 536.87,235.19 540.72,149.11 544.58,108.51 548.43,116.9 552.28,145.67 556.13,160.4 559.99,181.47 563.84,151.86 567.69,227.02 571.54,214.81 575.39,175.67 579.25,174.29 583.1,155.9 586.95,182.46 590.81,123.01 594.66,103.17 598.51,137.89 602.36,177.19 606.22,165.97 610.07,141.4 613.92,107.9 617.77,81.34 621.62,113.32 625.48,155.82 629.33,151.86 633.18,102.63 637.04,181.47 640.89,144.68 644.74,77.98 648.59,167.27 652.45,143.69 656.3,169.87 660.15,238.62 664,216.87 667.86,245.87 671.71,176.05 675.56,205.73 679.41,215.96 683.27,231.3 687.12,157.35 690.97,177.19 694.82,198.56 698.68,152.47 702.53,149.95 706.38,184.36 710.23,142.16 714.09,175.67 717.94,156.89" fill="none" stroke="#ff0000" stroke-width="1.5" stroke-linejoin="round"/>
<path d="M432.85 146.36L437.01 151.47L432.85 156.58L428.69 151.47Z" fill="#ff0000"/><path d="M436.7 162.92L440.87 168.03L436.7 173.14L432.54 168.03Z" fill="#ff0000"/><path d="M440.56 98.82L444.72 103.93L440.56 109.04L436.4 103.93Z" fill="#ff0000"/><path d="M444.41 135.07L448.57 140.18L444.41 145.29L440.25 140.18Z" fill="#ff0000"/><path d="M448.26 145.37L452.42 150.48L448.26 155.59L444.1 150.48Z" fill="#ff0000"/><path d="M452.12 154.15L456.28 159.26L452.12 164.37L447.95 159.26Z" fill="#ff0000"/><path d="M455.97 78.98L460.13 84.09L455.97 89.2L451.81 84.09Z" fill="#ff0000"/><path d="M459.82 214.51L463.98 219.62L459.82 224.73L455.66 219.62Z" fill="#ff0000"/><path d="M463.67 200.62L467.83 205.73L463.67 210.84L459.51 205.73Z" fill="#ff0000"/><path d="M467.52 120.19L471.69 125.3L467.52 130.41L463.36 125.3Z" fill="#ff0000"/><path d="M471.38 139.27L475.54 144.38L471.38 149.49L467.22 144.38Z" fill="#ff0000"/><path d="M475.23 179.71L479.39 184.82L475.23 189.93L471.07 184.82Z" fill="#ff0000"/><path d="M479.08 199.55L483.24 204.66L479.08 209.77L474.92 204.66Z" fill="#ff0000"/><path d="M482.94 59.14L487.1 64.25L482.94 69.36L478.77 64.25Z" fill="#ff0000"/><path d="M486.79 136.98L490.95 142.09L486.79 147.2L482.63 142.09Z" fill="#ff0000"/><path d="M490.64 221.53L494.8 226.64L490.64 231.75L486.48 226.64Z" fill="#ff0000"/><path d="M494.49 100.35L498.65 105.46L494.49 110.57L490.33 105.46Z" fill="#ff0000"/><path d="M498.35 140.56L502.51 145.67L498.35 150.78L494.18 145.67Z" fill="#ff0000"/><path d="M502.2 163.23L506.36 168.34L502.2 173.45L498.04 168.34Z" fill="#ff0000"/><path d="M506.05 151.48L510.21 156.59L506.05 161.7L501.89 156.59Z" fill="#ff0000"/><path d="M509.9 170.56L514.06 175.67L509.9 180.78L505.74 175.67Z" fill="#ff0000"/><path d="M513.75 178.19L517.92 183.3L513.75 188.41L509.59 183.3Z" fill="#ff0000"/><path d="M517.61 148.42L521.77 153.53L517.61 158.64L513.45 153.53Z" fill="#ff0000"/><path d="M521.46 145.37L525.62 150.48L521.46 155.59L517.3 150.48Z" fill="#ff0000"/><path d="M525.31 135.68L529.47 140.79L525.31 145.9L521.15 140.79Z" fill="#ff0000"/><path d="M529.16 136.98L533.33 142.09L529.16 147.2L525 142.09Z" fill="#ff0000"/><path d="M533.02 164.14L537.18 169.25L533.02 174.36L528.86 169.25Z" fill="#ff0000"/><path d="M536.87 230.08L541.03 235.19L536.87 240.3L532.71 235.19Z" fill="#ff0000"/><path d="M540.72 144L544.88 149.11L540.72 154.22L536.56 149.11Z" fill="#ff0000"/><path d="M544.58 103.4L548.74 108.51L544.58 113.62L540.41 108.51Z" fill="#ff0000"/><path d="M548.43 111.79L552.59 116.9L548.43 122.01L544.27 116.9Z" fill="#ff0000"/><path d="M552.28 140.56L556.44 145.67L552.28 150.78L548.12 145.67Z" fill="#ff0000"/><path d="M556.13 155.29L560.29 160.4L556.13 165.51L551.97 160.4Z" fill="#ff0000"/><path d="M559.99 176.36L564.15 181.47L559.99 186.58L555.82 181.47Z" fill="#ff0000"/><path d="M563.84 146.75L568 151.86L563.84 156.97L559.68 151.86Z" fill="#ff0000"/><path d="M567.69 221.91L571.85 227.02L567.69 232.13L563.53 227.02Z" fill="#ff0000"/><path d="M571.54 209.7L575.7 214.81L571.54 219.92L567.38 214.81Z" fill="#ff0000"/><path d="M575.39 170.56L579.56 175.67L575.39 180.78L571.23 175.67Z" fill="#ff0000"/><path d="M579.25 169.18L583.41 174.29L579.25 179.4L575.09 174.29Z" fill="#ff0000"/><path d="M583.1 150.79L587.26 155.9L583.1 161.01L578.94 155.9Z" fill="#ff0000"/><path d="M586.95 177.35L591.11 182.46L586.95 187.57L582.79 182.46Z" fill="#ff0000"/><path d="M590.81 117.9L594.97 123.01L590.81 128.12L586.64 123.01Z" fill="#ff0000"/><path d="M594.66 98.06L598.82 103.17L594.66 108.28L590.5 103.17Z" fill="#ff0000"/><path d="M598.51 132.78L602.67 137.89L598.51 143L594.35 137.89Z" fill="#ff0000"/><path d="M602.36 172.08L606.52 177.19L602.36 182.3L598.2 177.19Z" fill="#ff0000"/><path d="M606.22 160.86L610.38 165.97L606.22 171.08L602.05 165.97Z" fill="#ff0000"/><path d="M610.07 136.29L614.23 141.4L610.07 146.51L605.91 141.4Z" fill="#ff0000"/><path d="M613.92 102.79L618.08 107.9L613.92 113.01L609.76 107.9Z" fill="#ff0000"/><path d="M617.77 76.23L621.93 81.34L617.77 86.45L613.61 81.34Z" fill="#ff0000"/><path d="M621.62 108.21L625.79 113.32L621.62 118.43L617.46 113.32Z" fill="#ff0000"/><path d="M625.48 150.71L629.64 155.82L625.48 160.93L621.32 155.82Z" fill="#ff0000"/><path d="M629.33 146.75L633.49 151.86L629.33 156.97L625.17 151.86Z" fill="#ff0000"/><path d="M633.18 97.52L637.34 102.63L633.18 107.74L629.02 102.63Z" fill="#ff0000"/><path d="M637.04 176.36L641.2 181.47L637.04 186.58L632.87 181.47Z" fill="#ff0000"/><path d="M640.89 139.57L645.05 144.68L640.89 149.79L636.73 144.68Z" fill="#ff0000"/><path d="M644.74 72.87L648.9 77.98L644.74 83.09L640.58 77.98Z" fill="#ff0000"/><path d="M648.59 162.16L652.75 167.27L648.59 172.38L644.43 167.27Z" fill="#ff0000"/><path d="M652.45 138.58L656.61 143.69L652.45 148.8L648.28 143.69Z" fill="#ff0000"/><path d="M656.3 164.76L660.46 169.87L656.3 174.98L652.14 169.87Z" fill="#ff0000"/><path d="M660.15 233.51L664.31 238.62L660.15 243.73L655.99 238.62Z" fill="#ff0000"/><path d="M664 211.76L668.16 216.87L664 221.98L659.84 216.87Z" fill="#ff0000"/><path d="M667.86 240.76L672.02 245.87L667.86 250.98L663.69 245.87Z" fill="#ff0000"/><path d="M671.71 170.94L675.87 176.05L671.71 181.16L667.55 176.05Z" fill="#ff0000"/><path d="M675.56 200.62L679.72 205.73L675.56 210.84L671.4 205.73Z" fill="#ff0000"/><path d="M679.41 210.85L683.57 215.96L679.41 221.07L675.25 215.96Z" fill="#ff0000"/><path d="M683.27 226.19L687.43 231.3L683.27 236.41L679.1 231.3Z" fill="#ff0000"/><path d="M687.12 152.24L691.28 157.35L687.12 162.46L682.96 157.35Z" fill="#ff0000"/><path d="M690.97 172.08L695.13 177.19L690.97 182.3L686.81 177.19Z" fill="#ff0000"/><path d="M694.82 193.45L698.98 198.56L694.82 203.67L690.66 198.56Z" fill="#ff0000"/><path d="M698.68 147.36L702.84 152.47L698.68 157.58L694.51 152.47Z" fill="#ff0000"/><path d="M702.53 144.84L706.69 149.95L702.53 155.06L698.37 149.95Z" fill="#ff0000"/><path d="M706.38 179.25L710.54 184.36L706.38 189.47L702.22 184.36Z" fill="#ff0000"/><path d="M710.23 137.05L714.39 142.16L710.23 147.27L706.07 142.16Z" fill="#ff0000"/><path d="M714.09 170.56L718.25 175.67L714.09 180.78L709.92 175.67Z" fill="#ff0000"/><path d="M717.94 151.78L722.1 156.89L717.94 162L713.78 156.89Z" fill="#ff0000"/>
<polyline points="432.85,157.65 436.7,164.45 440.56,174.9 444.41,152.47 448.26,155.82 452.12,157.35 455.97,160.17 459.82,157.35 463.67,166.51 467.52,166.35 471.38,172.77 475.23,172.38 479.08,162.16 482.94,165.59 486.79,147.96 490.64,163.45 494.49,155.37 498.35,155.37 502.2,145.67 506.05,160.78 509.9,149.11 513.75,148.19 517.61,159.18 521.46,157.65 525.31,152.47 529.16,153.38 533.02,151.86 536.87,168.34 540.72,177.04 544.58,174.14 548.43,151.47 552.28,173.76 556.13,161.7 559.99,170.86 563.84,158.27 567.69,146.67 571.54,149.95 575.39,150.86 579.25,166.97 583.1,160.17 586.95,171.24 590.81,175.13 594.66,161.17 598.51,172.38 602.36,167.96 606.22,163.45 610.07,153.38 613.92,174.75 617.77,177.04 621.62,160.17 625.48,160.78 629.33,156.89 633.18,156.28 637.04,170.48 640.89,154.37 644.74,177.42 648.59,164.07 652.45,153.76 656.3,165.44 660.15,167.58 664,164.45 667.86,167.96 671.71,165.97 675.56,144.68 679.41,171.24 683.27,167.35 687.12,160.78 690.97,168.34 694.82,149.57 698.68,157.65 702.53,156.28 706.38,172.38 710.23,153.38 714.09,168.34 717.94,178.18" fill="none" stroke="#0000ff" stroke-width="1.5" stroke-linejoin="round"/>
<circle cx="432.85" cy="157.65" r="3.95" fill="#0000ff"/><circle cx="436.7" cy="164.45" r="3.95" fill="#0000ff"/><circle cx="440.56" cy="174.9" r="3.95" fill="#0000ff"/><circle cx="444.41" cy="152.47" r="3.95" fill="#0000ff"/><circle cx="448.26" cy="155.82" r="3.95" fill="#0000ff"/><circle cx="452.12" cy="157.35" r="3.95" fill="#0000ff"/><circle cx="455.97" cy="160.17" r="3.95" fill="#0000ff"/><circle cx="459.82" cy="157.35" r="3.95" fill="#0000ff"/><circle cx="463.67" cy="166.51" r="3.95" fill="#0000ff"/><circle cx="467.52" cy="166.35" r="3.95" fill="#0000ff"/><circle cx="471.38" cy="172.77" r="3.95" fill="#0000ff"/><circle cx="475.23" cy="172.38" r="3.95" fill="#0000ff"/><circle cx="479.08" cy="162.16" r="3.95" fill="#0000ff"/><circle cx="482.94" cy="165.59" r="3.95" fill="#0000ff"/><circle cx="486.79" cy="147.96" r="3.95" fill="#0000ff"/><circle cx="490.64" cy="163.45" r="3.95" fill="#0000ff"/><circle cx="494.49" cy="155.37" r="3.95" fill="#0000ff"/><circle cx="498.35" cy="155.37" r="3.95" fill="#0000ff"/><circle cx="502.2" cy="145.67" r="3.95" fill="#0000ff"/><circle cx="506.05" cy="160.78" r="3.95" fill="#0000ff"/><circle cx="509.9" cy="149.11" r="3.95" fill="#0000ff"/><circle cx="513.75" cy="148.19" r="3.95" fill="#0000ff"/><circle cx="517.61" cy="159.18" r="3.95" fill="#0000ff"/><circle cx="521.46" cy="157.65" r="3.95" fill="#0000ff"/><circle cx="525.31" cy="152.47" r="3.95" fill="#0000ff"/><circle cx="529.16" cy="153.38" r="3.95" fill="#0000ff"/><circle cx="533.02" cy="151.86" r="3.95" fill="#0000ff"/><circle cx="536.87" cy="168.34" r="3.95" fill="#0000ff"/><circle cx="540.72" cy="177.04" r="3.95" fill="#0000ff"/><circle cx="544.58" cy="174.14" r="3.95" fill="#0000ff"/><circle cx="548.43" cy="151.47" r="3.95" fill="#0000ff"/><circle cx="552.28" cy="173.76" r="3.95" fill="#0000ff"/><circle cx="556.13" cy="161.7" r="3.95" fill="#0000ff"/><circle cx="559.99" cy="170.86" r="3.95" fill="#0000ff"/><circle cx="563.84" cy="158.27" r="3.95" fill="#0000ff"/><circle cx="567.69" cy="146.67" r="3.95" fill="#0000ff"/><circle cx="571.54" cy="149.95" r="3.95" fill="#0000ff"/><circle cx="575.39" cy="150.86" r="3.95" fill="#0000ff"/><circle cx="579.25" cy="166.97" r="3.95" fill="#0000ff"/><circle cx="583.1" cy="160.17" r="3.95" fill="#0000ff"/><circle cx="586.95" cy="171.24" r="3.95" fill="#0000ff"/><circle cx="590.81" cy="175.13" r="3.95" fill="#0000ff"/><circle cx="594.66" cy="161.17" r="3.95" fill="#0000ff"/><circle cx="598.51" cy="172.38" r="3.95" fill="#0000ff"/><circle cx="602.36" cy="167.96" r="3.95" fill="#0000ff"/><circle cx="606.22" cy="163.45" r="3.95" fill="#0000ff"/><circle cx="610.07" cy="153.38" r="3.95" fill="#0000ff"/><circle cx="613.92" cy="174.75" r="3.95" fill="#0000ff"/><circle cx="617.77" cy="177.04" r="3.95" fill="#0000ff"/><circle cx="621.62" cy="160.17" r="3.95" fill="#0000ff"/><circle cx="625.48" cy="160.78" r="3.95" fill="#0000ff"/><circle cx="629.33" cy="156.89" r="3.95" fill="#0000ff"/><circle cx="633.18" cy="156.28" r="3.95" fill="#0000ff"/><circle cx="637.04" cy="170.48" r="3.95" fill="#0000ff"/><circle cx="640.89" cy="154.37" r="3.95" fill="#0000ff"/><circle cx="644.74" cy="177.42" r="3.95" fill="#0000ff"/><circle cx="648.59" cy="164.07" r="3.95" fill="#0000ff"/><circle cx="652.45" cy="153.76" r="3.95" fill="#0000ff"/><circle cx="656.3" cy="165.44" r="3.95" fill="#0000ff"/><circle cx="660.15" cy="167.58" r="3.95" fill="#0000ff"/><circle cx="664" cy="164.45" r="3.95" fill="#0000ff"/><circle cx="667.86" cy="167.96" r="3.95" fill="#0000ff"/><circle cx="671.71" cy="165.97" r="3.95" fill="#0000ff"/><circle cx="675.56" cy="144.68" r="3.95" fill="#0000ff"/><circle cx="679.41" cy="171.24" r="3.95" fill="#0000ff"/><circle cx="683.27" cy="167.35" r="3.95" fill="#0000ff"/><circle cx="687.12" cy="160.78" r="3.95" fill="#0000ff"/><circle cx="690.97" cy="168.34" r="3.95" fill="#0000ff"/><circle cx="694.82" cy="149.57" r="3.95" fill="#0000ff"/><circle cx="698.68" cy="157.65" r="3.95" fill="#0000ff"/><circle cx="702.53" cy="156.28" r="3.95" fill="#0000ff"/><circle cx="706.38" cy="172.38" r="3.95" fill="#0000ff"/><circle cx="710.23" cy="153.38" r="3.95" fill="#0000ff"/><circle cx="714.09" cy="168.34" r="3.95" fill="#0000ff"/><circle cx="717.94" cy="178.18" r="3.95" fill="#0000ff"/>
<rect x="652.5" y="14.5" width="83" height="33" fill="#ffffff" stroke="#b0b0b0" stroke-width="1"/>
<path d="M658.3 22.8H686.2" stroke="#ff0000" stroke-width="1.8"/>
<path d="M672.5 17.69L676.66 22.8L672.5 27.91L668.34 22.8Z" fill="#ff0000"/>
<path d="M658.3 38H686.2" stroke="#0000ff" stroke-width="1.8"/>
<circle cx="672.5" cy="38" r="3.95" fill="#0000ff"/>
<text transform="translate(689.8 26.93) scale(0.920 1.000)" font-family='"Liberation Sans", Arial, Helvetica, sans-serif' font-size="10" font-weight="normal" text-anchor="start" fill="#262626" stroke="#262626" stroke-width="0.25">EKF</text>
<text transform="translate(689.8 42.13) scale(0.920 1.000)" font-family='"Liberation Sans", Arial, Helvetica, sans-serif' font-size="10" font-weight="normal" text-anchor="start" fill="#262626" stroke="#262626" stroke-width="0.25">BD-AEKF</text>
<text x="568.5" y="325.3" font-family='"Liberation Serif", "Times New Roman", serif' font-size="18" text-anchor="middle" fill="#111111">(<tspan font-weight="bold">b</tspan>)</text>
</g>
<g id="plot-c">
<path d="M82.5 341.6V608.4M123.5 341.6V608.4M164.5 341.6V608.4M205.5 341.6V608.4M247.5 341.6V608.4M288.5 341.6V608.4M329.5 341.6V608.4M41 570.5H370.6M41 532.5H370.6M41 494.5H370.6M41 455.5H370.6M41 417.5H370.6M41 379.5H370.6" stroke="#dadada" stroke-width="1" fill="none"/>
<rect x="41.5" y="341.5" width="329" height="267" fill="none" stroke="#b0b0b0" stroke-width="1"/>
<g fill="#2e2e2e"><rect x="40.85" y="342.35" width="1.3" height="1.3"/><rect x="40.85" y="345.05" width="1.3" height="1.3"/><rect x="40.85" y="604.35" width="1.3" height="1.3"/><rect x="40.85" y="608.05" width="1.3" height="1.3"/><rect x="81.85" y="342.35" width="1.3" height="1.3"/><rect x="81.85" y="345.05" width="1.3" height="1.3"/><rect x="81.85" y="604.35" width="1.3" height="1.3"/><rect x="122.85" y="342.35" width="1.3" height="1.3"/><rect x="122.85" y="345.05" width="1.3" height="1.3"/><rect x="122.85" y="604.35" width="1.3" height="1.3"/><rect x="163.85" y="342.35" width="1.3" height="1.3"/><rect x="163.85" y="345.05" width="1.3" height="1.3"/><rect x="163.85" y="604.35" width="1.3" height="1.3"/><rect x="204.85" y="342.35" width="1.3" height="1.3"/><rect x="204.85" y="345.05" width="1.3" height="1.3"/><rect x="204.85" y="604.35" width="1.3" height="1.3"/><rect x="246.85" y="342.35" width="1.3" height="1.3"/><rect x="246.85" y="345.05" width="1.3" height="1.3"/><rect x="246.85" y="604.35" width="1.3" height="1.3"/><rect x="287.85" y="342.35" width="1.3" height="1.3"/><rect x="287.85" y="345.05" width="1.3" height="1.3"/><rect x="287.85" y="604.35" width="1.3" height="1.3"/><rect x="328.85" y="342.35" width="1.3" height="1.3"/><rect x="328.85" y="345.05" width="1.3" height="1.3"/><rect x="328.85" y="604.35" width="1.3" height="1.3"/><rect x="369.85" y="342.35" width="1.3" height="1.3"/><rect x="369.85" y="345.05" width="1.3" height="1.3"/><rect x="369.85" y="604.35" width="1.3" height="1.3"/><rect x="369.85" y="608.05" width="1.3" height="1.3"/><rect x="45.35" y="607.85" width="1.3" height="1.3"/><rect x="41.65" y="607.85" width="1.3" height="1.3"/><rect x="367.05" y="607.85" width="1.3" height="1.3"/><rect x="370.45" y="607.85" width="1.3" height="1.3"/><rect x="45.35" y="569.85" width="1.3" height="1.3"/><rect x="367.05" y="569.85" width="1.3" height="1.3"/><rect x="370.45" y="569.85" width="1.3" height="1.3"/><rect x="45.35" y="531.85" width="1.3" height="1.3"/><rect x="367.05" y="531.85" width="1.3" height="1.3"/><rect x="370.45" y="531.85" width="1.3" height="1.3"/><rect x="45.35" y="493.85" width="1.3" height="1.3"/><rect x="367.05" y="493.85" width="1.3" height="1.3"/><rect x="370.45" y="493.85" width="1.3" height="1.3"/><rect x="45.35" y="454.85" width="1.3" height="1.3"/><rect x="367.05" y="454.85" width="1.3" height="1.3"/><rect x="370.45" y="454.85" width="1.3" height="1.3"/><rect x="45.35" y="416.85" width="1.3" height="1.3"/><rect x="367.05" y="416.85" width="1.3" height="1.3"/><rect x="370.45" y="416.85" width="1.3" height="1.3"/><rect x="45.35" y="378.85" width="1.3" height="1.3"/><rect x="367.05" y="378.85" width="1.3" height="1.3"/><rect x="370.45" y="378.85" width="1.3" height="1.3"/><rect x="45.35" y="341.85" width="1.3" height="1.3"/><rect x="41.65" y="340.85" width="1.3" height="1.3"/><rect x="367.05" y="340.85" width="1.3" height="1.3"/><rect x="370.45" y="340.85" width="1.3" height="1.3"/></g>
<text transform="translate(41 620.9) scale(1.000 1.000)" font-family='"Liberation Sans", Arial, Helvetica, sans-serif' font-size="10" font-weight="normal" text-anchor="middle" fill="#262626" stroke="#262626" stroke-width="0.25">0</text>
<text transform="translate(82.2 620.9) scale(1.000 1.000)" font-family='"Liberation Sans", Arial, Helvetica, sans-serif' font-size="10" font-weight="normal" text-anchor="middle" fill="#262626" stroke="#262626" stroke-width="0.25">10</text>
<text transform="translate(123.4 620.9) scale(1.000 1.000)" font-family='"Liberation Sans", Arial, Helvetica, sans-serif' font-size="10" font-weight="normal" text-anchor="middle" fill="#262626" stroke="#262626" stroke-width="0.25">20</text>
<text transform="translate(164.6 620.9) scale(1.000 1.000)" font-family='"Liberation Sans", Arial, Helvetica, sans-serif' font-size="10" font-weight="normal" text-anchor="middle" fill="#262626" stroke="#262626" stroke-width="0.25">30</text>
<text transform="translate(205.8 620.9) scale(1.000 1.000)" font-family='"Liberation Sans", Arial, Helvetica, sans-serif' font-size="10" font-weight="normal" text-anchor="middle" fill="#262626" stroke="#262626" stroke-width="0.25">40</text>
<text transform="translate(247 620.9) scale(1.000 1.000)" font-family='"Liberation Sans", Arial, Helvetica, sans-serif' font-size="10" font-weight="normal" text-anchor="middle" fill="#262626" stroke="#262626" stroke-width="0.25">50</text>
<text transform="translate(288.2 620.9) scale(1.000 1.000)" font-family='"Liberation Sans", Arial, Helvetica, sans-serif' font-size="10" font-weight="normal" text-anchor="middle" fill="#262626" stroke="#262626" stroke-width="0.25">60</text>
<text transform="translate(329.4 620.9) scale(1.000 1.000)" font-family='"Liberation Sans", Arial, Helvetica, sans-serif' font-size="10" font-weight="normal" text-anchor="middle" fill="#262626" stroke="#262626" stroke-width="0.25">70</text>
<text transform="translate(370.6 620.9) scale(1.000 1.000)" font-family='"Liberation Sans", Arial, Helvetica, sans-serif' font-size="10" font-weight="normal" text-anchor="middle" fill="#262626" stroke="#262626" stroke-width="0.25">80</text>
<text transform="translate(38.4 612.48) scale(1.000 1.000)" font-family='"Liberation Sans", Arial, Helvetica, sans-serif' font-size="10" font-weight="normal" text-anchor="end" fill="#262626" stroke="#262626" stroke-width="0.25">-1.5</text>
<text transform="translate(38.4 574.37) scale(1.000 1.000)" font-family='"Liberation Sans", Arial, Helvetica, sans-serif' font-size="10" font-weight="normal" text-anchor="end" fill="#262626" stroke="#262626" stroke-width="0.25">-1</text>
<text transform="translate(38.4 536.25) scale(1.000 1.000)" font-family='"Liberation Sans", Arial, Helvetica, sans-serif' font-size="10" font-weight="normal" text-anchor="end" fill="#262626" stroke="#262626" stroke-width="0.25">-0.5</text>
<text transform="translate(38.4 498.14) scale(1.000 1.000)" font-family='"Liberation Sans", Arial, Helvetica, sans-serif' font-size="10" font-weight="normal" text-anchor="end" fill="#262626" stroke="#262626" stroke-width="0.25">0</text>
<text transform="translate(38.4 460.02) scale(1.000 1.000)" font-family='"Liberation Sans", Arial, Helvetica, sans-serif' font-size="10" font-weight="normal" text-anchor="end" fill="#262626" stroke="#262626" stroke-width="0.25">0.5</text>
<text transform="translate(38.4 421.91) scale(1.000 1.000)" font-family='"Liberation Sans", Arial, Helvetica, sans-serif' font-size="10" font-weight="normal" text-anchor="end" fill="#262626" stroke="#262626" stroke-width="0.25">1</text>
<text transform="translate(38.4 383.79) scale(1.000 1.000)" font-family='"Liberation Sans", Arial, Helvetica, sans-serif' font-size="10" font-weight="normal" text-anchor="end" fill="#262626" stroke="#262626" stroke-width="0.25">1.5</text>
<text transform="translate(38.4 345.68) scale(1.000 1.000)" font-family='"Liberation Sans", Arial, Helvetica, sans-serif' font-size="10" font-weight="normal" text-anchor="end" fill="#262626" stroke="#262626" stroke-width="0.25">2</text>
<text transform="translate(205.8 634.2) scale(1.000 1.000)" font-family='"Liberation Sans", Arial, Helvetica, sans-serif' font-size="10" font-weight="normal" text-anchor="middle" fill="#262626" stroke="#262626" stroke-width="0.25">Time (sec)</text>
<text transform="translate(13.6 475.8) rotate(-90) scale(1.000 1.000)" font-family='"Liberation Sans", Arial, Helvetica, sans-serif' font-size="10" text-anchor="middle" fill="#262626" stroke="#262626" stroke-width="0.25">Roll error (deg)</text>
<polyline points="45.12,496.95 49.24,505.49 53.36,507.78 57.48,549.7 61.6,501.68 65.72,566.47 69.84,545.59 73.96,494.06 78.08,419.73 82.2,468.14 86.32,434.83 90.44,427.51 94.56,458.99 98.68,489.48 102.8,492.53 106.92,512.73 111.04,514.33 115.16,537.13 119.28,550.62 123.4,539.79 127.52,517.23 131.64,554.28 135.76,551 139.88,511.82 144,531.71 148.12,505.26 152.24,485.67 156.36,543.3 160.48,501.68 164.6,509.07 168.72,510.45 172.84,557.17 176.96,538.42 181.08,479.04 185.2,443.29 189.32,421.64 193.44,433.84 197.56,437.65 201.68,434.83 205.8,473.78 209.92,462.57 214.04,472.87 218.16,475.76 222.28,472.87 226.4,441.92 230.52,461.81 234.64,451.6 238.76,511.97 242.88,484.38 247,508.54 251.12,538.8 255.24,552.91 259.36,487.27 263.48,486.43 267.6,419.73 271.72,447.18 275.84,496.34 279.96,498.86 284.08,420.73 288.2,496.95 292.32,558.09 296.44,490.25 300.56,500.84 304.68,498.86 308.8,460.29 312.92,469.36 317.04,482.47 321.16,510.83 325.28,498.86 329.4,483.08 333.52,474.77 337.64,485.37 341.76,559.31 345.88,520.51 350,523.41" fill="none" stroke="#ff0000" stroke-width="1.5" stroke-linejoin="round"/>
<path d="M45.12 491.7L49.39 496.95L45.12 502.2L40.84 496.95Z" fill="#ff0000"/><path d="M49.24 500.24L53.52 505.49L49.24 510.74L44.97 505.49Z" fill="#ff0000"/><path d="M53.36 502.53L57.63 507.78L53.36 513.03L49.09 507.78Z" fill="#ff0000"/><path d="M57.48 544.45L61.76 549.7L57.48 554.95L53.21 549.7Z" fill="#ff0000"/><path d="M61.6 496.43L65.88 501.68L61.6 506.93L57.33 501.68Z" fill="#ff0000"/><path d="M65.72 561.22L70 566.47L65.72 571.72L61.45 566.47Z" fill="#ff0000"/><path d="M69.84 540.34L74.12 545.59L69.84 550.84L65.56 545.59Z" fill="#ff0000"/><path d="M73.96 488.81L78.24 494.06L73.96 499.31L69.69 494.06Z" fill="#ff0000"/><path d="M78.08 414.48L82.36 419.73L78.08 424.98L73.8 419.73Z" fill="#ff0000"/><path d="M82.2 462.89L86.48 468.14L82.2 473.39L77.92 468.14Z" fill="#ff0000"/><path d="M86.32 429.58L90.6 434.83L86.32 440.08L82.05 434.83Z" fill="#ff0000"/><path d="M90.44 422.26L94.72 427.51L90.44 432.76L86.16 427.51Z" fill="#ff0000"/><path d="M94.56 453.74L98.84 458.99L94.56 464.24L90.28 458.99Z" fill="#ff0000"/><path d="M98.68 484.23L102.96 489.48L98.68 494.73L94.41 489.48Z" fill="#ff0000"/><path d="M102.8 487.28L107.08 492.53L102.8 497.78L98.52 492.53Z" fill="#ff0000"/><path d="M106.92 507.48L111.2 512.73L106.92 517.98L102.64 512.73Z" fill="#ff0000"/><path d="M111.04 509.08L115.32 514.33L111.04 519.58L106.77 514.33Z" fill="#ff0000"/><path d="M115.16 531.88L119.44 537.13L115.16 542.38L110.88 537.13Z" fill="#ff0000"/><path d="M119.28 545.37L123.56 550.62L119.28 555.87L115 550.62Z" fill="#ff0000"/><path d="M123.4 534.54L127.68 539.79L123.4 545.04L119.12 539.79Z" fill="#ff0000"/><path d="M127.52 511.98L131.8 517.23L127.52 522.48L123.25 517.23Z" fill="#ff0000"/><path d="M131.64 549.03L135.92 554.28L131.64 559.53L127.37 554.28Z" fill="#ff0000"/><path d="M135.76 545.75L140.03 551L135.76 556.25L131.48 551Z" fill="#ff0000"/><path d="M139.88 506.57L144.16 511.82L139.88 517.07L135.6 511.82Z" fill="#ff0000"/><path d="M144 526.46L148.28 531.71L144 536.96L139.72 531.71Z" fill="#ff0000"/><path d="M148.12 500.01L152.4 505.26L148.12 510.51L143.84 505.26Z" fill="#ff0000"/><path d="M152.24 480.42L156.52 485.67L152.24 490.92L147.97 485.67Z" fill="#ff0000"/><path d="M156.36 538.05L160.64 543.3L156.36 548.55L152.09 543.3Z" fill="#ff0000"/><path d="M160.48 496.43L164.76 501.68L160.48 506.93L156.21 501.68Z" fill="#ff0000"/><path d="M164.6 503.82L168.88 509.07L164.6 514.32L160.32 509.07Z" fill="#ff0000"/><path d="M168.72 505.2L173 510.45L168.72 515.7L164.44 510.45Z" fill="#ff0000"/><path d="M172.84 551.92L177.12 557.17L172.84 562.42L168.56 557.17Z" fill="#ff0000"/><path d="M176.96 533.17L181.24 538.42L176.96 543.67L172.69 538.42Z" fill="#ff0000"/><path d="M181.08 473.79L185.36 479.04L181.08 484.29L176.81 479.04Z" fill="#ff0000"/><path d="M185.2 438.04L189.47 443.29L185.2 448.54L180.92 443.29Z" fill="#ff0000"/><path d="M189.32 416.39L193.59 421.64L189.32 426.89L185.04 421.64Z" fill="#ff0000"/><path d="M193.44 428.59L197.72 433.84L193.44 439.09L189.16 433.84Z" fill="#ff0000"/><path d="M197.56 432.4L201.84 437.65L197.56 442.9L193.28 437.65Z" fill="#ff0000"/><path d="M201.68 429.58L205.96 434.83L201.68 440.08L197.41 434.83Z" fill="#ff0000"/><path d="M205.8 468.53L210.08 473.78L205.8 479.03L201.53 473.78Z" fill="#ff0000"/><path d="M209.92 457.32L214.2 462.57L209.92 467.82L205.65 462.57Z" fill="#ff0000"/><path d="M214.04 467.62L218.32 472.87L214.04 478.12L209.77 472.87Z" fill="#ff0000"/><path d="M218.16 470.51L222.44 475.76L218.16 481.01L213.89 475.76Z" fill="#ff0000"/><path d="M222.28 467.62L226.56 472.87L222.28 478.12L218.01 472.87Z" fill="#ff0000"/><path d="M226.4 436.67L230.68 441.92L226.4 447.17L222.13 441.92Z" fill="#ff0000"/><path d="M230.52 456.56L234.8 461.81L230.52 467.06L226.25 461.81Z" fill="#ff0000"/><path d="M234.64 446.35L238.92 451.6L234.64 456.85L230.37 451.6Z" fill="#ff0000"/><path d="M238.76 506.72L243.04 511.97L238.76 517.22L234.49 511.97Z" fill="#ff0000"/><path d="M242.88 479.13L247.16 484.38L242.88 489.63L238.61 484.38Z" fill="#ff0000"/><path d="M247 503.29L251.28 508.54L247 513.79L242.72 508.54Z" fill="#ff0000"/><path d="M251.12 533.55L255.4 538.8L251.12 544.05L246.85 538.8Z" fill="#ff0000"/><path d="M255.24 547.66L259.51 552.91L255.24 558.16L250.97 552.91Z" fill="#ff0000"/><path d="M259.36 482.02L263.63 487.27L259.36 492.52L255.09 487.27Z" fill="#ff0000"/><path d="M263.48 481.18L267.75 486.43L263.48 491.68L259.21 486.43Z" fill="#ff0000"/><path d="M267.6 414.48L271.88 419.73L267.6 424.98L263.33 419.73Z" fill="#ff0000"/><path d="M271.72 441.93L276 447.18L271.72 452.43L267.45 447.18Z" fill="#ff0000"/><path d="M275.84 491.09L280.12 496.34L275.84 501.59L271.57 496.34Z" fill="#ff0000"/><path d="M279.96 493.61L284.24 498.86L279.96 504.11L275.69 498.86Z" fill="#ff0000"/><path d="M284.08 415.48L288.36 420.73L284.08 425.98L279.81 420.73Z" fill="#ff0000"/><path d="M288.2 491.7L292.47 496.95L288.2 502.2L283.93 496.95Z" fill="#ff0000"/><path d="M292.32 552.84L296.6 558.09L292.32 563.34L288.05 558.09Z" fill="#ff0000"/><path d="M296.44 485L300.71 490.25L296.44 495.5L292.17 490.25Z" fill="#ff0000"/><path d="M300.56 495.59L304.84 500.84L300.56 506.09L296.29 500.84Z" fill="#ff0000"/><path d="M304.68 493.61L308.95 498.86L304.68 504.11L300.41 498.86Z" fill="#ff0000"/><path d="M308.8 455.04L313.07 460.29L308.8 465.54L304.53 460.29Z" fill="#ff0000"/><path d="M312.92 464.11L317.19 469.36L312.92 474.61L308.65 469.36Z" fill="#ff0000"/><path d="M317.04 477.22L321.31 482.47L317.04 487.72L312.77 482.47Z" fill="#ff0000"/><path d="M321.16 505.58L325.44 510.83L321.16 516.08L316.89 510.83Z" fill="#ff0000"/><path d="M325.28 493.61L329.56 498.86L325.28 504.11L321.01 498.86Z" fill="#ff0000"/><path d="M329.4 477.83L333.67 483.08L329.4 488.33L325.12 483.08Z" fill="#ff0000"/><path d="M333.52 469.52L337.8 474.77L333.52 480.02L329.25 474.77Z" fill="#ff0000"/><path d="M337.64 480.12L341.91 485.37L337.64 490.62L333.37 485.37Z" fill="#ff0000"/><path d="M341.76 554.06L346.04 559.31L341.76 564.56L337.49 559.31Z" fill="#ff0000"/><path d="M345.88 515.26L350.15 520.51L345.88 525.76L341.61 520.51Z" fill="#ff0000"/><path d="M350 518.16L354.27 523.41L350 528.66L345.73 523.41Z" fill="#ff0000"/>
<polyline points="45.12,495.43 49.24,500.16 53.36,481.48 57.48,477.06 61.6,495.05 65.72,495.05 69.84,505.49 73.96,492.53 78.08,493.07 82.2,488.72 86.32,508.54 90.44,508.92 94.56,482.09 98.68,494.44 102.8,490.55 106.92,497.87 111.04,480.34 115.16,500.16 119.28,495.96 123.4,506.25 127.52,506.03 131.64,502.14 135.76,495.05 139.88,495.96 144,494.44 148.12,500.16 152.24,482.47 156.36,474.77 160.48,500.16 164.6,499.39 168.72,504.73 172.84,479.57 176.96,501.38 181.08,484.91 185.2,490.78 189.32,484.91 193.44,489.79 197.56,485.37 201.68,488.87 205.8,491.16 209.92,493.45 214.04,484.38 218.16,482.85 222.28,488.87 226.4,491.54 230.52,492.69 234.64,483.08 238.76,504.73 242.88,488.72 247,496.34 251.12,503.2 255.24,500.54 259.36,491.16 263.48,483.84 267.6,489.79 271.72,487.65 275.84,495.05 279.96,495.58 284.08,483.84 288.2,496.57 292.32,503.13 296.44,483.46 300.56,497.56 304.68,496.57 308.8,486.74 312.92,483.46 317.04,508.54 321.16,504.65 325.28,495.96 329.4,487.65 333.52,482.47 337.64,489.64 341.76,505.26 345.88,503.2 350,494.67" fill="none" stroke="#0000ff" stroke-width="1.5" stroke-linejoin="round"/>
<circle cx="45.12" cy="495.43" r="4.05" fill="#0000ff"/><circle cx="49.24" cy="500.16" r="4.05" fill="#0000ff"/><circle cx="53.36" cy="481.48" r="4.05" fill="#0000ff"/><circle cx="57.48" cy="477.06" r="4.05" fill="#0000ff"/><circle cx="61.6" cy="495.05" r="4.05" fill="#0000ff"/><circle cx="65.72" cy="495.05" r="4.05" fill="#0000ff"/><circle cx="69.84" cy="505.49" r="4.05" fill="#0000ff"/><circle cx="73.96" cy="492.53" r="4.05" fill="#0000ff"/><circle cx="78.08" cy="493.07" r="4.05" fill="#0000ff"/><circle cx="82.2" cy="488.72" r="4.05" fill="#0000ff"/><circle cx="86.32" cy="508.54" r="4.05" fill="#0000ff"/><circle cx="90.44" cy="508.92" r="4.05" fill="#0000ff"/><circle cx="94.56" cy="482.09" r="4.05" fill="#0000ff"/><circle cx="98.68" cy="494.44" r="4.05" fill="#0000ff"/><circle cx="102.8" cy="490.55" r="4.05" fill="#0000ff"/><circle cx="106.92" cy="497.87" r="4.05" fill="#0000ff"/><circle cx="111.04" cy="480.34" r="4.05" fill="#0000ff"/><circle cx="115.16" cy="500.16" r="4.05" fill="#0000ff"/><circle cx="119.28" cy="495.96" r="4.05" fill="#0000ff"/><circle cx="123.4" cy="506.25" r="4.05" fill="#0000ff"/><circle cx="127.52" cy="506.03" r="4.05" fill="#0000ff"/><circle cx="131.64" cy="502.14" r="4.05" fill="#0000ff"/><circle cx="135.76" cy="495.05" r="4.05" fill="#0000ff"/><circle cx="139.88" cy="495.96" r="4.05" fill="#0000ff"/><circle cx="144" cy="494.44" r="4.05" fill="#0000ff"/><circle cx="148.12" cy="500.16" r="4.05" fill="#0000ff"/><circle cx="152.24" cy="482.47" r="4.05" fill="#0000ff"/><circle cx="156.36" cy="474.77" r="4.05" fill="#0000ff"/><circle cx="160.48" cy="500.16" r="4.05" fill="#0000ff"/><circle cx="164.6" cy="499.39" r="4.05" fill="#0000ff"/><circle cx="168.72" cy="504.73" r="4.05" fill="#0000ff"/><circle cx="172.84" cy="479.57" r="4.05" fill="#0000ff"/><circle cx="176.96" cy="501.38" r="4.05" fill="#0000ff"/><circle cx="181.08" cy="484.91" r="4.05" fill="#0000ff"/><circle cx="185.2" cy="490.78" r="4.05" fill="#0000ff"/><circle cx="189.32" cy="484.91" r="4.05" fill="#0000ff"/><circle cx="193.44" cy="489.79" r="4.05" fill="#0000ff"/><circle cx="197.56" cy="485.37" r="4.05" fill="#0000ff"/><circle cx="201.68" cy="488.87" r="4.05" fill="#0000ff"/><circle cx="205.8" cy="491.16" r="4.05" fill="#0000ff"/><circle cx="209.92" cy="493.45" r="4.05" fill="#0000ff"/><circle cx="214.04" cy="484.38" r="4.05" fill="#0000ff"/><circle cx="218.16" cy="482.85" r="4.05" fill="#0000ff"/><circle cx="222.28" cy="488.87" r="4.05" fill="#0000ff"/><circle cx="226.4" cy="491.54" r="4.05" fill="#0000ff"/><circle cx="230.52" cy="492.69" r="4.05" fill="#0000ff"/><circle cx="234.64" cy="483.08" r="4.05" fill="#0000ff"/><circle cx="238.76" cy="504.73" r="4.05" fill="#0000ff"/><circle cx="242.88" cy="488.72" r="4.05" fill="#0000ff"/><circle cx="247" cy="496.34" r="4.05" fill="#0000ff"/><circle cx="251.12" cy="503.2" r="4.05" fill="#0000ff"/><circle cx="255.24" cy="500.54" r="4.05" fill="#0000ff"/><circle cx="259.36" cy="491.16" r="4.05" fill="#0000ff"/><circle cx="263.48" cy="483.84" r="4.05" fill="#0000ff"/><circle cx="267.6" cy="489.79" r="4.05" fill="#0000ff"/><circle cx="271.72" cy="487.65" r="4.05" fill="#0000ff"/><circle cx="275.84" cy="495.05" r="4.05" fill="#0000ff"/><circle cx="279.96" cy="495.58" r="4.05" fill="#0000ff"/><circle cx="284.08" cy="483.84" r="4.05" fill="#0000ff"/><circle cx="288.2" cy="496.57" r="4.05" fill="#0000ff"/><circle cx="292.32" cy="503.13" r="4.05" fill="#0000ff"/><circle cx="296.44" cy="483.46" r="4.05" fill="#0000ff"/><circle cx="300.56" cy="497.56" r="4.05" fill="#0000ff"/><circle cx="304.68" cy="496.57" r="4.05" fill="#0000ff"/><circle cx="308.8" cy="486.74" r="4.05" fill="#0000ff"/><circle cx="312.92" cy="483.46" r="4.05" fill="#0000ff"/><circle cx="317.04" cy="508.54" r="4.05" fill="#0000ff"/><circle cx="321.16" cy="504.65" r="4.05" fill="#0000ff"/><circle cx="325.28" cy="495.96" r="4.05" fill="#0000ff"/><circle cx="329.4" cy="487.65" r="4.05" fill="#0000ff"/><circle cx="333.52" cy="482.47" r="4.05" fill="#0000ff"/><circle cx="337.64" cy="489.64" r="4.05" fill="#0000ff"/><circle cx="341.76" cy="505.26" r="4.05" fill="#0000ff"/><circle cx="345.88" cy="503.2" r="4.05" fill="#0000ff"/><circle cx="350" cy="494.67" r="4.05" fill="#0000ff"/>
<rect x="279.5" y="346.5" width="88" height="33" fill="#ffffff" stroke="#b0b0b0" stroke-width="1"/>
<path d="M285.5 355.3H315.8" stroke="#ff0000" stroke-width="1.8"/>
<path d="M300.7 350.05L304.97 355.3L300.7 360.55L296.43 355.3Z" fill="#ff0000"/>
<path d="M285.5 370.4H315.8" stroke="#0000ff" stroke-width="1.8"/>
<circle cx="300.7" cy="370.4" r="4.05" fill="#0000ff"/>
<text transform="translate(319.4 359.43) scale(0.980 1.000)" font-family='"Liberation Sans", Arial, Helvetica, sans-serif' font-size="10" font-weight="normal" text-anchor="start" fill="#262626" stroke="#262626" stroke-width="0.25">EKF</text>
<text transform="translate(319.4 374.53) scale(0.980 1.000)" font-family='"Liberation Sans", Arial, Helvetica, sans-serif' font-size="10" font-weight="normal" text-anchor="start" fill="#262626" stroke="#262626" stroke-width="0.25">BD-AEKF</text>
<text x="189.5" y="656.5" font-family='"Liberation Serif", "Times New Roman", serif' font-size="18" text-anchor="middle" fill="#111111">(<tspan font-weight="bold">c</tspan>)</text>
</g>
<g id="plot-d">
<path d="M459.5 338.1V606.5M498.5 338.1V606.5M538.5 338.1V606.5M578.5 338.1V606.5M618.5 338.1V606.5M657.5 338.1V606.5M697.5 338.1V606.5M419.3 572.5H737.3M419.3 539.5H737.3M419.3 505.5H737.3M419.3 472.5H737.3M419.3 438.5H737.3M419.3 405.5H737.3M419.3 371.5H737.3" stroke="#dadada" stroke-width="1" fill="none"/>
<rect x="419.5" y="338.5" width="318" height="268" fill="none" stroke="#b0b0b0" stroke-width="1"/>
<g fill="#2e2e2e"><rect x="418.85" y="338.85" width="1.3" height="1.3"/><rect x="418.85" y="341.55" width="1.3" height="1.3"/><rect x="418.85" y="602.45" width="1.3" height="1.3"/><rect x="418.85" y="606.15" width="1.3" height="1.3"/><rect x="458.85" y="338.85" width="1.3" height="1.3"/><rect x="458.85" y="341.55" width="1.3" height="1.3"/><rect x="458.85" y="602.45" width="1.3" height="1.3"/><rect x="497.85" y="338.85" width="1.3" height="1.3"/><rect x="497.85" y="341.55" width="1.3" height="1.3"/><rect x="497.85" y="602.45" width="1.3" height="1.3"/><rect x="537.85" y="338.85" width="1.3" height="1.3"/><rect x="537.85" y="341.55" width="1.3" height="1.3"/><rect x="537.85" y="602.45" width="1.3" height="1.3"/><rect x="577.85" y="338.85" width="1.3" height="1.3"/><rect x="577.85" y="341.55" width="1.3" height="1.3"/><rect x="577.85" y="602.45" width="1.3" height="1.3"/><rect x="617.85" y="338.85" width="1.3" height="1.3"/><rect x="617.85" y="341.55" width="1.3" height="1.3"/><rect x="617.85" y="602.45" width="1.3" height="1.3"/><rect x="656.85" y="338.85" width="1.3" height="1.3"/><rect x="656.85" y="341.55" width="1.3" height="1.3"/><rect x="656.85" y="602.45" width="1.3" height="1.3"/><rect x="696.85" y="338.85" width="1.3" height="1.3"/><rect x="696.85" y="341.55" width="1.3" height="1.3"/><rect x="696.85" y="602.45" width="1.3" height="1.3"/><rect x="736.85" y="338.85" width="1.3" height="1.3"/><rect x="736.85" y="341.55" width="1.3" height="1.3"/><rect x="736.85" y="602.45" width="1.3" height="1.3"/><rect x="736.85" y="606.15" width="1.3" height="1.3"/><rect x="423.65" y="605.85" width="1.3" height="1.3"/><rect x="419.95" y="605.85" width="1.3" height="1.3"/><rect x="733.75" y="605.85" width="1.3" height="1.3"/><rect x="737.15" y="605.85" width="1.3" height="1.3"/><rect x="423.65" y="571.85" width="1.3" height="1.3"/><rect x="733.75" y="571.85" width="1.3" height="1.3"/><rect x="737.15" y="571.85" width="1.3" height="1.3"/><rect x="423.65" y="538.85" width="1.3" height="1.3"/><rect x="733.75" y="538.85" width="1.3" height="1.3"/><rect x="737.15" y="538.85" width="1.3" height="1.3"/><rect x="423.65" y="504.85" width="1.3" height="1.3"/><rect x="733.75" y="504.85" width="1.3" height="1.3"/><rect x="737.15" y="504.85" width="1.3" height="1.3"/><rect x="423.65" y="471.85" width="1.3" height="1.3"/><rect x="733.75" y="471.85" width="1.3" height="1.3"/><rect x="737.15" y="471.85" width="1.3" height="1.3"/><rect x="423.65" y="437.85" width="1.3" height="1.3"/><rect x="733.75" y="437.85" width="1.3" height="1.3"/><rect x="737.15" y="437.85" width="1.3" height="1.3"/><rect x="423.65" y="404.85" width="1.3" height="1.3"/><rect x="733.75" y="404.85" width="1.3" height="1.3"/><rect x="737.15" y="404.85" width="1.3" height="1.3"/><rect x="423.65" y="370.85" width="1.3" height="1.3"/><rect x="733.75" y="370.85" width="1.3" height="1.3"/><rect x="737.15" y="370.85" width="1.3" height="1.3"/><rect x="423.65" y="338.85" width="1.3" height="1.3"/><rect x="419.95" y="337.85" width="1.3" height="1.3"/><rect x="733.75" y="337.85" width="1.3" height="1.3"/><rect x="737.15" y="337.85" width="1.3" height="1.3"/></g>
<text transform="translate(419.3 619.7) scale(0.940 1.020)" font-family='"Liberation Sans", Arial, Helvetica, sans-serif' font-size="10" font-weight="normal" text-anchor="middle" fill="#262626" stroke="#262626" stroke-width="0.25">0</text>
<text transform="translate(459.05 619.7) scale(0.940 1.020)" font-family='"Liberation Sans", Arial, Helvetica, sans-serif' font-size="10" font-weight="normal" text-anchor="middle" fill="#262626" stroke="#262626" stroke-width="0.25">10</text>
<text transform="translate(498.8 619.7) scale(0.940 1.020)" font-family='"Liberation Sans", Arial, Helvetica, sans-serif' font-size="10" font-weight="normal" text-anchor="middle" fill="#262626" stroke="#262626" stroke-width="0.25">20</text>
<text transform="translate(538.55 619.7) scale(0.940 1.020)" font-family='"Liberation Sans", Arial, Helvetica, sans-serif' font-size="10" font-weight="normal" text-anchor="middle" fill="#262626" stroke="#262626" stroke-width="0.25">30</text>
<text transform="translate(578.3 619.7) scale(0.940 1.020)" font-family='"Liberation Sans", Arial, Helvetica, sans-serif' font-size="10" font-weight="normal" text-anchor="middle" fill="#262626" stroke="#262626" stroke-width="0.25">40</text>
<text transform="translate(618.05 619.7) scale(0.940 1.020)" font-family='"Liberation Sans", Arial, Helvetica, sans-serif' font-size="10" font-weight="normal" text-anchor="middle" fill="#262626" stroke="#262626" stroke-width="0.25">50</text>
<text transform="translate(657.8 619.7) scale(0.940 1.020)" font-family='"Liberation Sans", Arial, Helvetica, sans-serif' font-size="10" font-weight="normal" text-anchor="middle" fill="#262626" stroke="#262626" stroke-width="0.25">60</text>
<text transform="translate(697.55 619.7) scale(0.940 1.020)" font-family='"Liberation Sans", Arial, Helvetica, sans-serif' font-size="10" font-weight="normal" text-anchor="middle" fill="#262626" stroke="#262626" stroke-width="0.25">70</text>
<text transform="translate(737.3 619.7) scale(0.940 1.020)" font-family='"Liberation Sans", Arial, Helvetica, sans-serif' font-size="10" font-weight="normal" text-anchor="middle" fill="#262626" stroke="#262626" stroke-width="0.25">80</text>
<text transform="translate(416.7 610.65) scale(0.940 1.020)" font-family='"Liberation Sans", Arial, Helvetica, sans-serif' font-size="10" font-weight="normal" text-anchor="end" fill="#262626" stroke="#262626" stroke-width="0.25">-3</text>
<text transform="translate(416.7 577.1) scale(0.940 1.020)" font-family='"Liberation Sans", Arial, Helvetica, sans-serif' font-size="10" font-weight="normal" text-anchor="end" fill="#262626" stroke="#262626" stroke-width="0.25">-2</text>
<text transform="translate(416.7 543.55) scale(0.940 1.020)" font-family='"Liberation Sans", Arial, Helvetica, sans-serif' font-size="10" font-weight="normal" text-anchor="end" fill="#262626" stroke="#262626" stroke-width="0.25">-1</text>
<text transform="translate(416.7 510) scale(0.940 1.020)" font-family='"Liberation Sans", Arial, Helvetica, sans-serif' font-size="10" font-weight="normal" text-anchor="end" fill="#262626" stroke="#262626" stroke-width="0.25">0</text>
<text transform="translate(416.7 476.45) scale(0.940 1.020)" font-family='"Liberation Sans", Arial, Helvetica, sans-serif' font-size="10" font-weight="normal" text-anchor="end" fill="#262626" stroke="#262626" stroke-width="0.25">1</text>
<text transform="translate(416.7 442.9) scale(0.940 1.020)" font-family='"Liberation Sans", Arial, Helvetica, sans-serif' font-size="10" font-weight="normal" text-anchor="end" fill="#262626" stroke="#262626" stroke-width="0.25">2</text>
<text transform="translate(416.7 409.35) scale(0.940 1.020)" font-family='"Liberation Sans", Arial, Helvetica, sans-serif' font-size="10" font-weight="normal" text-anchor="end" fill="#262626" stroke="#262626" stroke-width="0.25">3</text>
<text transform="translate(416.7 375.8) scale(0.940 1.020)" font-family='"Liberation Sans", Arial, Helvetica, sans-serif' font-size="10" font-weight="normal" text-anchor="end" fill="#262626" stroke="#262626" stroke-width="0.25">4</text>
<text transform="translate(416.7 342.25) scale(0.940 1.020)" font-family='"Liberation Sans", Arial, Helvetica, sans-serif' font-size="10" font-weight="normal" text-anchor="end" fill="#262626" stroke="#262626" stroke-width="0.25">5</text>
<text transform="translate(577.6 632.9) scale(0.940 1.020)" font-family='"Liberation Sans", Arial, Helvetica, sans-serif' font-size="10" font-weight="normal" text-anchor="middle" fill="#262626" stroke="#262626" stroke-width="0.25">Time (sec)</text>
<text transform="translate(399.2 473.1) rotate(-90) scale(1.020 0.940)" font-family='"Liberation Sans", Arial, Helvetica, sans-serif' font-size="10" text-anchor="middle" fill="#262626" stroke="#262626" stroke-width="0.25">East position error (m)</text>
<polyline points="423.28,476.83 427.25,488.64 431.23,477.8 435.2,489.41 439.18,432.91 443.15,473.98 447.12,476.06 451.1,455.73 455.07,471.96 459.05,479.35 463.02,497.33 467,509.34 470.98,511.65 474.95,454.18 478.93,533.13 482.9,502.5 486.88,472.2 490.85,510.31 494.82,477.03 498.8,499.14 502.77,490.55 506.75,488.07 510.73,508.2 514.7,541.25 518.67,537.39 522.65,501.82 526.62,497.46 530.6,483.2 534.58,505.51 538.55,468.11 542.52,506.42 546.5,495.79 550.48,527.12 554.45,478 558.42,496.79 562.4,482.23 566.38,462.91 570.35,473.54 574.33,462.3 578.3,451.87 582.27,464.45 586.25,462.91 590.23,430.97 594.2,448.98 598.17,471.23 602.15,477.8 606.12,449.35 610.1,482.23 614.07,495.79 618.05,474.51 622.02,527.12 626,495.79 629.97,497.13 633.95,504.17 637.92,493.84 641.9,492.5 645.88,488.07 649.85,566.04 653.82,519.4 657.8,509.21 661.77,534.47 665.75,537.96 669.72,509.71 673.7,495.21 677.67,507.53 681.65,475.49 685.62,443.55 689.6,492.3 693.58,437.17 697.55,457.67 701.52,437.74 705.5,415.5 709.47,421.3 713.45,457.47 717.42,470.25" fill="none" stroke="#ff0000" stroke-width="1.5" stroke-linejoin="round"/>
<path d="M423.28 471.58L427.55 476.83L423.28 482.08L419 476.83Z" fill="#ff0000"/><path d="M427.25 483.39L431.52 488.64L427.25 493.89L422.98 488.64Z" fill="#ff0000"/><path d="M431.23 472.55L435.5 477.8L431.23 483.05L426.95 477.8Z" fill="#ff0000"/><path d="M435.2 484.16L439.47 489.41L435.2 494.66L430.93 489.41Z" fill="#ff0000"/><path d="M439.18 427.66L443.45 432.91L439.18 438.16L434.9 432.91Z" fill="#ff0000"/><path d="M443.15 468.73L447.42 473.98L443.15 479.23L438.88 473.98Z" fill="#ff0000"/><path d="M447.12 470.81L451.4 476.06L447.12 481.31L442.85 476.06Z" fill="#ff0000"/><path d="M451.1 450.48L455.38 455.73L451.1 460.98L446.83 455.73Z" fill="#ff0000"/><path d="M455.07 466.71L459.35 471.96L455.07 477.21L450.8 471.96Z" fill="#ff0000"/><path d="M459.05 474.1L463.32 479.35L459.05 484.6L454.78 479.35Z" fill="#ff0000"/><path d="M463.02 492.08L467.3 497.33L463.02 502.58L458.75 497.33Z" fill="#ff0000"/><path d="M467 504.09L471.27 509.34L467 514.59L462.73 509.34Z" fill="#ff0000"/><path d="M470.98 506.4L475.25 511.65L470.98 516.9L466.7 511.65Z" fill="#ff0000"/><path d="M474.95 448.93L479.22 454.18L474.95 459.43L470.68 454.18Z" fill="#ff0000"/><path d="M478.93 527.88L483.2 533.13L478.93 538.38L474.65 533.13Z" fill="#ff0000"/><path d="M482.9 497.25L487.17 502.5L482.9 507.75L478.62 502.5Z" fill="#ff0000"/><path d="M486.88 466.95L491.15 472.2L486.88 477.45L482.6 472.2Z" fill="#ff0000"/><path d="M490.85 505.06L495.12 510.31L490.85 515.56L486.58 510.31Z" fill="#ff0000"/><path d="M494.82 471.78L499.1 477.03L494.82 482.28L490.55 477.03Z" fill="#ff0000"/><path d="M498.8 493.89L503.07 499.14L498.8 504.39L494.53 499.14Z" fill="#ff0000"/><path d="M502.77 485.3L507.05 490.55L502.77 495.8L498.5 490.55Z" fill="#ff0000"/><path d="M506.75 482.82L511.02 488.07L506.75 493.32L502.48 488.07Z" fill="#ff0000"/><path d="M510.73 502.95L515 508.2L510.73 513.45L506.45 508.2Z" fill="#ff0000"/><path d="M514.7 536L518.98 541.25L514.7 546.5L510.43 541.25Z" fill="#ff0000"/><path d="M518.67 532.14L522.95 537.39L518.67 542.64L514.4 537.39Z" fill="#ff0000"/><path d="M522.65 496.57L526.92 501.82L522.65 507.07L518.38 501.82Z" fill="#ff0000"/><path d="M526.62 492.21L530.9 497.46L526.62 502.71L522.35 497.46Z" fill="#ff0000"/><path d="M530.6 477.95L534.88 483.2L530.6 488.45L526.33 483.2Z" fill="#ff0000"/><path d="M534.58 500.26L538.85 505.51L534.58 510.76L530.3 505.51Z" fill="#ff0000"/><path d="M538.55 462.86L542.82 468.11L538.55 473.36L534.27 468.11Z" fill="#ff0000"/><path d="M542.52 501.17L546.8 506.42L542.52 511.67L538.25 506.42Z" fill="#ff0000"/><path d="M546.5 490.54L550.77 495.79L546.5 501.04L542.23 495.79Z" fill="#ff0000"/><path d="M550.48 521.87L554.75 527.12L550.48 532.37L546.2 527.12Z" fill="#ff0000"/><path d="M554.45 472.75L558.73 478L554.45 483.25L550.18 478Z" fill="#ff0000"/><path d="M558.42 491.54L562.7 496.79L558.42 502.04L554.15 496.79Z" fill="#ff0000"/><path d="M562.4 476.98L566.67 482.23L562.4 487.48L558.12 482.23Z" fill="#ff0000"/><path d="M566.38 457.66L570.65 462.91L566.38 468.16L562.1 462.91Z" fill="#ff0000"/><path d="M570.35 468.29L574.62 473.54L570.35 478.79L566.08 473.54Z" fill="#ff0000"/><path d="M574.33 457.05L578.6 462.3L574.33 467.55L570.05 462.3Z" fill="#ff0000"/><path d="M578.3 446.62L582.57 451.87L578.3 457.12L574.02 451.87Z" fill="#ff0000"/><path d="M582.27 459.2L586.55 464.45L582.27 469.7L578 464.45Z" fill="#ff0000"/><path d="M586.25 457.66L590.52 462.91L586.25 468.16L581.98 462.91Z" fill="#ff0000"/><path d="M590.23 425.72L594.5 430.97L590.23 436.22L585.95 430.97Z" fill="#ff0000"/><path d="M594.2 443.73L598.48 448.98L594.2 454.23L589.93 448.98Z" fill="#ff0000"/><path d="M598.17 465.98L602.45 471.23L598.17 476.48L593.9 471.23Z" fill="#ff0000"/><path d="M602.15 472.55L606.42 477.8L602.15 483.05L597.88 477.8Z" fill="#ff0000"/><path d="M606.12 444.1L610.4 449.35L606.12 454.6L601.85 449.35Z" fill="#ff0000"/><path d="M610.1 476.98L614.37 482.23L610.1 487.48L605.82 482.23Z" fill="#ff0000"/><path d="M614.07 490.54L618.35 495.79L614.07 501.04L609.8 495.79Z" fill="#ff0000"/><path d="M618.05 469.26L622.32 474.51L618.05 479.76L613.77 474.51Z" fill="#ff0000"/><path d="M622.02 521.87L626.3 527.12L622.02 532.37L617.75 527.12Z" fill="#ff0000"/><path d="M626 490.54L630.27 495.79L626 501.04L621.73 495.79Z" fill="#ff0000"/><path d="M629.97 491.88L634.25 497.13L629.97 502.38L625.7 497.13Z" fill="#ff0000"/><path d="M633.95 498.92L638.22 504.17L633.95 509.42L629.67 504.17Z" fill="#ff0000"/><path d="M637.92 488.59L642.2 493.84L637.92 499.09L633.65 493.84Z" fill="#ff0000"/><path d="M641.9 487.25L646.17 492.5L641.9 497.75L637.62 492.5Z" fill="#ff0000"/><path d="M645.88 482.82L650.15 488.07L645.88 493.32L641.6 488.07Z" fill="#ff0000"/><path d="M649.85 560.79L654.12 566.04L649.85 571.29L645.57 566.04Z" fill="#ff0000"/><path d="M653.82 514.15L658.1 519.4L653.82 524.65L649.55 519.4Z" fill="#ff0000"/><path d="M657.8 503.96L662.07 509.21L657.8 514.46L653.52 509.21Z" fill="#ff0000"/><path d="M661.77 529.22L666.05 534.47L661.77 539.72L657.5 534.47Z" fill="#ff0000"/><path d="M665.75 532.71L670.02 537.96L665.75 543.21L661.48 537.96Z" fill="#ff0000"/><path d="M669.72 504.46L674 509.71L669.72 514.96L665.45 509.71Z" fill="#ff0000"/><path d="M673.7 489.96L677.97 495.21L673.7 500.46L669.42 495.21Z" fill="#ff0000"/><path d="M677.67 502.28L681.95 507.53L677.67 512.78L673.4 507.53Z" fill="#ff0000"/><path d="M681.65 470.24L685.92 475.49L681.65 480.74L677.38 475.49Z" fill="#ff0000"/><path d="M685.62 438.3L689.9 443.55L685.62 448.8L681.35 443.55Z" fill="#ff0000"/><path d="M689.6 487.05L693.87 492.3L689.6 497.55L685.32 492.3Z" fill="#ff0000"/><path d="M693.58 431.92L697.85 437.17L693.58 442.42L689.3 437.17Z" fill="#ff0000"/><path d="M697.55 452.42L701.82 457.67L697.55 462.92L693.27 457.67Z" fill="#ff0000"/><path d="M701.52 432.49L705.8 437.74L701.52 442.99L697.25 437.74Z" fill="#ff0000"/><path d="M705.5 410.25L709.77 415.5L705.5 420.75L701.23 415.5Z" fill="#ff0000"/><path d="M709.47 416.05L713.75 421.3L709.47 426.55L705.2 421.3Z" fill="#ff0000"/><path d="M713.45 452.22L717.73 457.47L713.45 462.72L709.18 457.47Z" fill="#ff0000"/><path d="M717.42 465L721.7 470.25L717.42 475.5L713.15 470.25Z" fill="#ff0000"/>
<polyline points="423.28,517.09 427.25,506.05 431.23,510.31 435.2,500.05 439.18,514.74 443.15,501.22 447.12,507.96 451.1,492.9 455.07,500.05 459.05,513.57 463.02,507.96 467,495.21 470.98,501.02 474.95,499.14 478.93,493.84 482.9,504.51 486.88,502.16 490.85,507.96 494.82,510.68 498.8,493.84 502.77,509.88 506.75,501.22 510.73,517.66 514.7,505.45 518.67,501.22 522.65,498.7 526.62,495.79 530.6,504.84 534.58,509.71 538.55,505.08 542.52,497.73 546.5,492.9 550.48,518.6 554.45,510.31 558.42,493.84 562.4,495.42 566.38,509.34 570.35,501.22 574.33,491.93 578.3,481.86 582.27,490.95 586.25,491.93 590.23,501.22 594.2,502.56 598.17,506.05 602.15,485.15 606.12,494.81 610.1,493.84 614.07,515.71 618.05,504.51 622.02,506.82 626,491.93 629.97,502.16 633.95,506.42 637.92,512.22 641.9,503.17 645.88,516.69 649.85,506.05 653.82,509.88 657.8,505.45 661.77,498.3 665.75,501.99 669.72,504.51 673.7,502.56 677.67,515.14 681.65,494.44 685.62,508.77 689.6,501.99 693.58,504.51 697.55,497.33 701.52,495.79 705.5,510.88 709.47,510.68 713.45,494.81 717.42,492.9" fill="none" stroke="#0000ff" stroke-width="1.5" stroke-linejoin="round"/>
<circle cx="423.28" cy="517.09" r="4.05" fill="#0000ff"/><circle cx="427.25" cy="506.05" r="4.05" fill="#0000ff"/><circle cx="431.23" cy="510.31" r="4.05" fill="#0000ff"/><circle cx="435.2" cy="500.05" r="4.05" fill="#0000ff"/><circle cx="439.18" cy="514.74" r="4.05" fill="#0000ff"/><circle cx="443.15" cy="501.22" r="4.05" fill="#0000ff"/><circle cx="447.12" cy="507.96" r="4.05" fill="#0000ff"/><circle cx="451.1" cy="492.9" r="4.05" fill="#0000ff"/><circle cx="455.07" cy="500.05" r="4.05" fill="#0000ff"/><circle cx="459.05" cy="513.57" r="4.05" fill="#0000ff"/><circle cx="463.02" cy="507.96" r="4.05" fill="#0000ff"/><circle cx="467" cy="495.21" r="4.05" fill="#0000ff"/><circle cx="470.98" cy="501.02" r="4.05" fill="#0000ff"/><circle cx="474.95" cy="499.14" r="4.05" fill="#0000ff"/><circle cx="478.93" cy="493.84" r="4.05" fill="#0000ff"/><circle cx="482.9" cy="504.51" r="4.05" fill="#0000ff"/><circle cx="486.88" cy="502.16" r="4.05" fill="#0000ff"/><circle cx="490.85" cy="507.96" r="4.05" fill="#0000ff"/><circle cx="494.82" cy="510.68" r="4.05" fill="#0000ff"/><circle cx="498.8" cy="493.84" r="4.05" fill="#0000ff"/><circle cx="502.77" cy="509.88" r="4.05" fill="#0000ff"/><circle cx="506.75" cy="501.22" r="4.05" fill="#0000ff"/><circle cx="510.73" cy="517.66" r="4.05" fill="#0000ff"/><circle cx="514.7" cy="505.45" r="4.05" fill="#0000ff"/><circle cx="518.67" cy="501.22" r="4.05" fill="#0000ff"/><circle cx="522.65" cy="498.7" r="4.05" fill="#0000ff"/><circle cx="526.62" cy="495.79" r="4.05" fill="#0000ff"/><circle cx="530.6" cy="504.84" r="4.05" fill="#0000ff"/><circle cx="534.58" cy="509.71" r="4.05" fill="#0000ff"/><circle cx="538.55" cy="505.08" r="4.05" fill="#0000ff"/><circle cx="542.52" cy="497.73" r="4.05" fill="#0000ff"/><circle cx="546.5" cy="492.9" r="4.05" fill="#0000ff"/><circle cx="550.48" cy="518.6" r="4.05" fill="#0000ff"/><circle cx="554.45" cy="510.31" r="4.05" fill="#0000ff"/><circle cx="558.42" cy="493.84" r="4.05" fill="#0000ff"/><circle cx="562.4" cy="495.42" r="4.05" fill="#0000ff"/><circle cx="566.38" cy="509.34" r="4.05" fill="#0000ff"/><circle cx="570.35" cy="501.22" r="4.05" fill="#0000ff"/><circle cx="574.33" cy="491.93" r="4.05" fill="#0000ff"/><circle cx="578.3" cy="481.86" r="4.05" fill="#0000ff"/><circle cx="582.27" cy="490.95" r="4.05" fill="#0000ff"/><circle cx="586.25" cy="491.93" r="4.05" fill="#0000ff"/><circle cx="590.23" cy="501.22" r="4.05" fill="#0000ff"/><circle cx="594.2" cy="502.56" r="4.05" fill="#0000ff"/><circle cx="598.17" cy="506.05" r="4.05" fill="#0000ff"/><circle cx="602.15" cy="485.15" r="4.05" fill="#0000ff"/><circle cx="606.12" cy="494.81" r="4.05" fill="#0000ff"/><circle cx="610.1" cy="493.84" r="4.05" fill="#0000ff"/><circle cx="614.07" cy="515.71" r="4.05" fill="#0000ff"/><circle cx="618.05" cy="504.51" r="4.05" fill="#0000ff"/><circle cx="622.02" cy="506.82" r="4.05" fill="#0000ff"/><circle cx="626" cy="491.93" r="4.05" fill="#0000ff"/><circle cx="629.97" cy="502.16" r="4.05" fill="#0000ff"/><circle cx="633.95" cy="506.42" r="4.05" fill="#0000ff"/><circle cx="637.92" cy="512.22" r="4.05" fill="#0000ff"/><circle cx="641.9" cy="503.17" r="4.05" fill="#0000ff"/><circle cx="645.88" cy="516.69" r="4.05" fill="#0000ff"/><circle cx="649.85" cy="506.05" r="4.05" fill="#0000ff"/><circle cx="653.82" cy="509.88" r="4.05" fill="#0000ff"/><circle cx="657.8" cy="505.45" r="4.05" fill="#0000ff"/><circle cx="661.77" cy="498.3" r="4.05" fill="#0000ff"/><circle cx="665.75" cy="501.99" r="4.05" fill="#0000ff"/><circle cx="669.72" cy="504.51" r="4.05" fill="#0000ff"/><circle cx="673.7" cy="502.56" r="4.05" fill="#0000ff"/><circle cx="677.67" cy="515.14" r="4.05" fill="#0000ff"/><circle cx="681.65" cy="494.44" r="4.05" fill="#0000ff"/><circle cx="685.62" cy="508.77" r="4.05" fill="#0000ff"/><circle cx="689.6" cy="501.99" r="4.05" fill="#0000ff"/><circle cx="693.58" cy="504.51" r="4.05" fill="#0000ff"/><circle cx="697.55" cy="497.33" r="4.05" fill="#0000ff"/><circle cx="701.52" cy="495.79" r="4.05" fill="#0000ff"/><circle cx="705.5" cy="510.88" r="4.05" fill="#0000ff"/><circle cx="709.47" cy="510.68" r="4.05" fill="#0000ff"/><circle cx="713.45" cy="494.81" r="4.05" fill="#0000ff"/><circle cx="717.42" cy="492.9" r="4.05" fill="#0000ff"/>
<rect x="649.5" y="343.5" width="86" height="33" fill="#ffffff" stroke="#b0b0b0" stroke-width="1"/>
<path d="M655.4 352.1H684.5" stroke="#ff0000" stroke-width="1.8"/>
<path d="M670 346.85L674.27 352.1L670 357.35L665.73 352.1Z" fill="#ff0000"/>
<path d="M655.4 367.1H684.5" stroke="#0000ff" stroke-width="1.8"/>
<circle cx="670" cy="367.1" r="4.05" fill="#0000ff"/>
<text transform="translate(687.9 356.3) scale(0.940 1.020)" font-family='"Liberation Sans", Arial, Helvetica, sans-serif' font-size="10" font-weight="normal" text-anchor="start" fill="#262626" stroke="#262626" stroke-width="0.25">EKF</text>
<text transform="translate(687.9 371.3) scale(0.940 1.020)" font-family='"Liberation Sans", Arial, Helvetica, sans-serif' font-size="10" font-weight="normal" text-anchor="start" fill="#262626" stroke="#262626" stroke-width="0.25">BD-AEKF</text>
<text x="568.4" y="656.5" font-family='"Liberation Serif", "Times New Roman", serif' font-size="18" text-anchor="middle" fill="#111111">(<tspan font-weight="bold">d</tspan>)</text>
</g>
<g id="plot-e">
<path d="M258.5 668.4V948.4M301.5 668.4V948.4M343.5 668.4V948.4M385.5 668.4V948.4M428.5 668.4V948.4M470.5 668.4V948.4M513.5 668.4V948.4M216.5 913.5H555.4M216.5 878.5H555.4M216.5 843.5H555.4M216.5 808.5H555.4M216.5 773.5H555.4M216.5 738.5H555.4M216.5 703.5H555.4" stroke="#dadada" stroke-width="1" fill="none"/>
<rect x="216.5" y="668.5" width="339" height="280" fill="none" stroke="#b0b0b0" stroke-width="1"/>
<g fill="#2e2e2e"><rect x="215.85" y="669.15" width="1.3" height="1.3"/><rect x="215.85" y="671.85" width="1.3" height="1.3"/><rect x="215.85" y="944.35" width="1.3" height="1.3"/><rect x="215.85" y="948.05" width="1.3" height="1.3"/><rect x="257.85" y="669.15" width="1.3" height="1.3"/><rect x="257.85" y="671.85" width="1.3" height="1.3"/><rect x="257.85" y="944.35" width="1.3" height="1.3"/><rect x="300.85" y="669.15" width="1.3" height="1.3"/><rect x="300.85" y="671.85" width="1.3" height="1.3"/><rect x="300.85" y="944.35" width="1.3" height="1.3"/><rect x="342.85" y="669.15" width="1.3" height="1.3"/><rect x="342.85" y="671.85" width="1.3" height="1.3"/><rect x="342.85" y="944.35" width="1.3" height="1.3"/><rect x="384.85" y="669.15" width="1.3" height="1.3"/><rect x="384.85" y="671.85" width="1.3" height="1.3"/><rect x="384.85" y="944.35" width="1.3" height="1.3"/><rect x="427.85" y="669.15" width="1.3" height="1.3"/><rect x="427.85" y="671.85" width="1.3" height="1.3"/><rect x="427.85" y="944.35" width="1.3" height="1.3"/><rect x="469.85" y="669.15" width="1.3" height="1.3"/><rect x="469.85" y="671.85" width="1.3" height="1.3"/><rect x="469.85" y="944.35" width="1.3" height="1.3"/><rect x="512.85" y="669.15" width="1.3" height="1.3"/><rect x="512.85" y="671.85" width="1.3" height="1.3"/><rect x="512.85" y="944.35" width="1.3" height="1.3"/><rect x="554.85" y="669.15" width="1.3" height="1.3"/><rect x="554.85" y="671.85" width="1.3" height="1.3"/><rect x="554.85" y="944.35" width="1.3" height="1.3"/><rect x="554.85" y="948.05" width="1.3" height="1.3"/><rect x="220.85" y="947.85" width="1.3" height="1.3"/><rect x="217.15" y="947.85" width="1.3" height="1.3"/><rect x="551.85" y="947.85" width="1.3" height="1.3"/><rect x="555.25" y="947.85" width="1.3" height="1.3"/><rect x="220.85" y="912.85" width="1.3" height="1.3"/><rect x="551.85" y="912.85" width="1.3" height="1.3"/><rect x="555.25" y="912.85" width="1.3" height="1.3"/><rect x="220.85" y="877.85" width="1.3" height="1.3"/><rect x="551.85" y="877.85" width="1.3" height="1.3"/><rect x="555.25" y="877.85" width="1.3" height="1.3"/><rect x="220.85" y="842.85" width="1.3" height="1.3"/><rect x="551.85" y="842.85" width="1.3" height="1.3"/><rect x="555.25" y="842.85" width="1.3" height="1.3"/><rect x="220.85" y="807.85" width="1.3" height="1.3"/><rect x="551.85" y="807.85" width="1.3" height="1.3"/><rect x="555.25" y="807.85" width="1.3" height="1.3"/><rect x="220.85" y="772.85" width="1.3" height="1.3"/><rect x="551.85" y="772.85" width="1.3" height="1.3"/><rect x="555.25" y="772.85" width="1.3" height="1.3"/><rect x="220.85" y="737.85" width="1.3" height="1.3"/><rect x="551.85" y="737.85" width="1.3" height="1.3"/><rect x="555.25" y="737.85" width="1.3" height="1.3"/><rect x="220.85" y="702.85" width="1.3" height="1.3"/><rect x="551.85" y="702.85" width="1.3" height="1.3"/><rect x="555.25" y="702.85" width="1.3" height="1.3"/><rect x="220.85" y="668.85" width="1.3" height="1.3"/><rect x="217.15" y="667.85" width="1.3" height="1.3"/><rect x="551.85" y="667.85" width="1.3" height="1.3"/><rect x="555.25" y="667.85" width="1.3" height="1.3"/></g>
<text transform="translate(216.5 962.3) scale(1.010 1.050)" font-family='"Liberation Sans", Arial, Helvetica, sans-serif' font-size="10" font-weight="normal" text-anchor="middle" fill="#262626" stroke="#262626" stroke-width="0.25">0</text>
<text transform="translate(258.86 962.3) scale(1.010 1.050)" font-family='"Liberation Sans", Arial, Helvetica, sans-serif' font-size="10" font-weight="normal" text-anchor="middle" fill="#262626" stroke="#262626" stroke-width="0.25">10</text>
<text transform="translate(301.23 962.3) scale(1.010 1.050)" font-family='"Liberation Sans", Arial, Helvetica, sans-serif' font-size="10" font-weight="normal" text-anchor="middle" fill="#262626" stroke="#262626" stroke-width="0.25">20</text>
<text transform="translate(343.59 962.3) scale(1.010 1.050)" font-family='"Liberation Sans", Arial, Helvetica, sans-serif' font-size="10" font-weight="normal" text-anchor="middle" fill="#262626" stroke="#262626" stroke-width="0.25">30</text>
<text transform="translate(385.95 962.3) scale(1.010 1.050)" font-family='"Liberation Sans", Arial, Helvetica, sans-serif' font-size="10" font-weight="normal" text-anchor="middle" fill="#262626" stroke="#262626" stroke-width="0.25">40</text>
<text transform="translate(428.31 962.3) scale(1.010 1.050)" font-family='"Liberation Sans", Arial, Helvetica, sans-serif' font-size="10" font-weight="normal" text-anchor="middle" fill="#262626" stroke="#262626" stroke-width="0.25">50</text>
<text transform="translate(470.68 962.3) scale(1.010 1.050)" font-family='"Liberation Sans", Arial, Helvetica, sans-serif' font-size="10" font-weight="normal" text-anchor="middle" fill="#262626" stroke="#262626" stroke-width="0.25">60</text>
<text transform="translate(513.04 962.3) scale(1.010 1.050)" font-family='"Liberation Sans", Arial, Helvetica, sans-serif' font-size="10" font-weight="normal" text-anchor="middle" fill="#262626" stroke="#262626" stroke-width="0.25">70</text>
<text transform="translate(555.4 962.3) scale(1.010 1.050)" font-family='"Liberation Sans", Arial, Helvetica, sans-serif' font-size="10" font-weight="normal" text-anchor="middle" fill="#262626" stroke="#262626" stroke-width="0.25">80</text>
<text transform="translate(213.9 952.66) scale(1.010 1.050)" font-family='"Liberation Sans", Arial, Helvetica, sans-serif' font-size="10" font-weight="normal" text-anchor="end" fill="#262626" stroke="#262626" stroke-width="0.25">-3</text>
<text transform="translate(213.9 917.66) scale(1.010 1.050)" font-family='"Liberation Sans", Arial, Helvetica, sans-serif' font-size="10" font-weight="normal" text-anchor="end" fill="#262626" stroke="#262626" stroke-width="0.25">-2</text>
<text transform="translate(213.9 882.66) scale(1.010 1.050)" font-family='"Liberation Sans", Arial, Helvetica, sans-serif' font-size="10" font-weight="normal" text-anchor="end" fill="#262626" stroke="#262626" stroke-width="0.25">-1</text>
<text transform="translate(213.9 847.66) scale(1.010 1.050)" font-family='"Liberation Sans", Arial, Helvetica, sans-serif' font-size="10" font-weight="normal" text-anchor="end" fill="#262626" stroke="#262626" stroke-width="0.25">0</text>
<text transform="translate(213.9 812.66) scale(1.010 1.050)" font-family='"Liberation Sans", Arial, Helvetica, sans-serif' font-size="10" font-weight="normal" text-anchor="end" fill="#262626" stroke="#262626" stroke-width="0.25">1</text>
<text transform="translate(213.9 777.66) scale(1.010 1.050)" font-family='"Liberation Sans", Arial, Helvetica, sans-serif' font-size="10" font-weight="normal" text-anchor="end" fill="#262626" stroke="#262626" stroke-width="0.25">2</text>
<text transform="translate(213.9 742.66) scale(1.010 1.050)" font-family='"Liberation Sans", Arial, Helvetica, sans-serif' font-size="10" font-weight="normal" text-anchor="end" fill="#262626" stroke="#262626" stroke-width="0.25">3</text>
<text transform="translate(213.9 707.66) scale(1.010 1.050)" font-family='"Liberation Sans", Arial, Helvetica, sans-serif' font-size="10" font-weight="normal" text-anchor="end" fill="#262626" stroke="#262626" stroke-width="0.25">4</text>
<text transform="translate(213.9 672.66) scale(1.010 1.050)" font-family='"Liberation Sans", Arial, Helvetica, sans-serif' font-size="10" font-weight="normal" text-anchor="end" fill="#262626" stroke="#262626" stroke-width="0.25">5</text>
<text transform="translate(384.95 976.2) scale(1.010 1.050)" font-family='"Liberation Sans", Arial, Helvetica, sans-serif' font-size="10" font-weight="normal" text-anchor="middle" fill="#262626" stroke="#262626" stroke-width="0.25">Time (sec)</text>
<text transform="translate(197 809.2) rotate(-90) scale(1.050 1.010)" font-family='"Liberation Sans", Arial, Helvetica, sans-serif' font-size="10" text-anchor="middle" fill="#262626" stroke="#262626" stroke-width="0.25">North position error (m)</text>
<polyline points="220.74,844.45 224.97,833.6 229.21,856.56 233.44,806.3 237.68,823.1 241.92,827.65 246.15,851.52 250.39,830.45 254.63,786.94 258.86,817.29 263.1,811.9 267.33,841.65 271.57,829.47 275.81,843.4 280.04,876.86 284.28,814.77 288.52,860.41 292.75,851.52 296.99,822.4 301.23,814.77 305.46,824.64 309.7,857.33 313.93,854.04 318.17,862.65 322.41,869.89 326.64,872.8 330.88,870.35 335.12,883.05 339.35,869.89 343.59,866.99 347.82,848.65 352.06,837.03 356.3,830.45 360.53,834.68 364.77,811.9 369,830.45 373.24,829.29 377.48,827.93 381.71,808.19 385.95,805.7 390.19,825.62 394.42,791.77 398.66,810.15 402.89,794.68 407.13,831.22 411.37,879.76 415.6,808.19 419.84,846.9 424.08,838.57 428.31,847.6 432.55,832.76 436.78,873.95 441.02,893.27 445.26,861.39 449.49,866.61 453.73,892.71 457.97,864.68 462.2,848.65 466.44,833.36 470.68,779.6 474.91,811.1 479.15,784.81 483.38,822.12 487.62,768.36 491.86,825.62 496.09,760.62 500.33,832.9 504.56,798.53 508.8,834.12 513.04,818.27 517.27,833.36 521.51,829.4 525.75,811.48 529.98,791.18 534.22,788.27" fill="none" stroke="#ff0000" stroke-width="1.5" stroke-linejoin="round"/>
<path d="M220.74 838.15L225.87 844.45L220.74 850.75L215.61 844.45Z" fill="#ff0000"/><path d="M224.97 827.3L230.1 833.6L224.97 839.9L219.84 833.6Z" fill="#ff0000"/><path d="M229.21 850.26L234.34 856.56L229.21 862.86L224.08 856.56Z" fill="#ff0000"/><path d="M233.44 800L238.57 806.3L233.44 812.6L228.31 806.3Z" fill="#ff0000"/><path d="M237.68 816.8L242.81 823.1L237.68 829.4L232.55 823.1Z" fill="#ff0000"/><path d="M241.92 821.35L247.05 827.65L241.92 833.95L236.79 827.65Z" fill="#ff0000"/><path d="M246.15 845.22L251.28 851.52L246.15 857.82L241.02 851.52Z" fill="#ff0000"/><path d="M250.39 824.15L255.52 830.45L250.39 836.75L245.26 830.45Z" fill="#ff0000"/><path d="M254.63 780.64L259.76 786.94L254.63 793.24L249.5 786.94Z" fill="#ff0000"/><path d="M258.86 810.99L263.99 817.29L258.86 823.59L253.73 817.29Z" fill="#ff0000"/><path d="M263.1 805.6L268.23 811.9L263.1 818.2L257.97 811.9Z" fill="#ff0000"/><path d="M267.33 835.35L272.46 841.65L267.33 847.95L262.2 841.65Z" fill="#ff0000"/><path d="M271.57 823.17L276.7 829.47L271.57 835.77L266.44 829.47Z" fill="#ff0000"/><path d="M275.81 837.1L280.94 843.4L275.81 849.7L270.68 843.4Z" fill="#ff0000"/><path d="M280.04 870.56L285.17 876.86L280.04 883.16L274.91 876.86Z" fill="#ff0000"/><path d="M284.28 808.47L289.41 814.77L284.28 821.07L279.15 814.77Z" fill="#ff0000"/><path d="M288.52 854.11L293.65 860.41L288.52 866.71L283.39 860.41Z" fill="#ff0000"/><path d="M292.75 845.22L297.88 851.52L292.75 857.82L287.62 851.52Z" fill="#ff0000"/><path d="M296.99 816.1L302.12 822.4L296.99 828.7L291.86 822.4Z" fill="#ff0000"/><path d="M301.23 808.47L306.36 814.77L301.23 821.07L296.1 814.77Z" fill="#ff0000"/><path d="M305.46 818.34L310.59 824.64L305.46 830.94L300.33 824.64Z" fill="#ff0000"/><path d="M309.7 851.03L314.83 857.33L309.7 863.63L304.57 857.33Z" fill="#ff0000"/><path d="M313.93 847.74L319.06 854.04L313.93 860.34L308.8 854.04Z" fill="#ff0000"/><path d="M318.17 856.35L323.3 862.65L318.17 868.95L313.04 862.65Z" fill="#ff0000"/><path d="M322.41 863.6L327.54 869.89L322.41 876.19L317.28 869.89Z" fill="#ff0000"/><path d="M326.64 866.5L331.77 872.8L326.64 879.1L321.51 872.8Z" fill="#ff0000"/><path d="M330.88 864.05L336.01 870.35L330.88 876.65L325.75 870.35Z" fill="#ff0000"/><path d="M335.12 876.75L340.25 883.05L335.12 889.35L329.99 883.05Z" fill="#ff0000"/><path d="M339.35 863.6L344.48 869.89L339.35 876.19L334.22 869.89Z" fill="#ff0000"/><path d="M343.59 860.69L348.72 866.99L343.59 873.29L338.46 866.99Z" fill="#ff0000"/><path d="M347.82 842.35L352.95 848.65L347.82 854.95L342.69 848.65Z" fill="#ff0000"/><path d="M352.06 830.73L357.19 837.03L352.06 843.33L346.93 837.03Z" fill="#ff0000"/><path d="M356.3 824.15L361.43 830.45L356.3 836.75L351.17 830.45Z" fill="#ff0000"/><path d="M360.53 828.38L365.66 834.68L360.53 840.98L355.4 834.68Z" fill="#ff0000"/><path d="M364.77 805.6L369.9 811.9L364.77 818.2L359.64 811.9Z" fill="#ff0000"/><path d="M369 824.15L374.13 830.45L369 836.75L363.88 830.45Z" fill="#ff0000"/><path d="M373.24 823L378.37 829.29L373.24 835.59L368.11 829.29Z" fill="#ff0000"/><path d="M377.48 821.63L382.61 827.93L377.48 834.23L372.35 827.93Z" fill="#ff0000"/><path d="M381.71 801.89L386.84 808.19L381.71 814.49L376.58 808.19Z" fill="#ff0000"/><path d="M385.95 799.4L391.08 805.7L385.95 812L380.82 805.7Z" fill="#ff0000"/><path d="M390.19 819.32L395.32 825.62L390.19 831.92L385.06 825.62Z" fill="#ff0000"/><path d="M394.42 785.48L399.55 791.77L394.42 798.07L389.29 791.77Z" fill="#ff0000"/><path d="M398.66 803.85L403.79 810.15L398.66 816.45L393.53 810.15Z" fill="#ff0000"/><path d="M402.89 788.38L408.02 794.68L402.89 800.98L397.76 794.68Z" fill="#ff0000"/><path d="M407.13 824.92L412.26 831.22L407.13 837.52L402 831.22Z" fill="#ff0000"/><path d="M411.37 873.47L416.5 879.76L411.37 886.06L406.24 879.76Z" fill="#ff0000"/><path d="M415.6 801.89L420.73 808.19L415.6 814.49L410.47 808.19Z" fill="#ff0000"/><path d="M419.84 840.6L424.97 846.9L419.84 853.2L414.71 846.9Z" fill="#ff0000"/><path d="M424.08 832.27L429.21 838.57L424.08 844.87L418.95 838.57Z" fill="#ff0000"/><path d="M428.31 841.3L433.44 847.6L428.31 853.9L423.18 847.6Z" fill="#ff0000"/><path d="M432.55 826.46L437.68 832.76L432.55 839.06L427.42 832.76Z" fill="#ff0000"/><path d="M436.78 867.65L441.91 873.95L436.78 880.25L431.65 873.95Z" fill="#ff0000"/><path d="M441.02 886.98L446.15 893.27L441.02 899.57L435.89 893.27Z" fill="#ff0000"/><path d="M445.26 855.09L450.39 861.39L445.26 867.69L440.13 861.39Z" fill="#ff0000"/><path d="M449.49 860.31L454.62 866.61L449.49 872.9L444.36 866.61Z" fill="#ff0000"/><path d="M453.73 886.41L458.86 892.71L453.73 899.01L448.6 892.71Z" fill="#ff0000"/><path d="M457.97 858.38L463.1 864.68L457.97 870.98L452.84 864.68Z" fill="#ff0000"/><path d="M462.2 842.35L467.33 848.65L462.2 854.95L457.07 848.65Z" fill="#ff0000"/><path d="M466.44 827.06L471.57 833.36L466.44 839.65L461.31 833.36Z" fill="#ff0000"/><path d="M470.68 773.3L475.81 779.6L470.68 785.89L465.55 779.6Z" fill="#ff0000"/><path d="M474.91 804.8L480.04 811.1L474.91 817.39L469.78 811.1Z" fill="#ff0000"/><path d="M479.15 778.51L484.28 784.81L479.15 791.11L474.02 784.81Z" fill="#ff0000"/><path d="M483.38 815.82L488.51 822.12L483.38 828.42L478.25 822.12Z" fill="#ff0000"/><path d="M487.62 762.06L492.75 768.36L487.62 774.66L482.49 768.36Z" fill="#ff0000"/><path d="M491.86 819.32L496.99 825.62L491.86 831.92L486.73 825.62Z" fill="#ff0000"/><path d="M496.09 754.33L501.22 760.62L496.09 766.92L490.96 760.62Z" fill="#ff0000"/><path d="M500.33 826.6L505.46 832.9L500.33 839.2L495.2 832.9Z" fill="#ff0000"/><path d="M504.56 792.23L509.69 798.53L504.56 804.83L499.43 798.53Z" fill="#ff0000"/><path d="M508.8 827.83L513.93 834.12L508.8 840.42L503.67 834.12Z" fill="#ff0000"/><path d="M513.04 811.97L518.17 818.27L513.04 824.57L507.91 818.27Z" fill="#ff0000"/><path d="M517.27 827.06L522.4 833.36L517.27 839.65L512.14 833.36Z" fill="#ff0000"/><path d="M521.51 823.1L526.64 829.4L521.51 835.7L516.38 829.4Z" fill="#ff0000"/><path d="M525.75 805.18L530.88 811.48L525.75 817.78L520.62 811.48Z" fill="#ff0000"/><path d="M529.98 784.88L535.11 791.18L529.98 797.48L524.85 791.18Z" fill="#ff0000"/><path d="M534.22 781.98L539.35 788.27L534.22 794.57L529.09 788.27Z" fill="#ff0000"/>
<polyline points="220.74,835.28 224.97,859.85 229.21,848.82 233.44,834.68 237.68,841.47 241.92,826.95 246.15,844.38 250.39,841.47 254.63,838.57 258.86,846.3 263.1,850.15 267.33,848.82 271.57,834.68 275.81,842.42 280.04,845.33 284.28,852.67 288.52,833.36 292.75,834.3 296.99,819.81 301.23,843.78 305.46,844.94 309.7,834.68 313.93,826.39 318.17,860.79 322.41,839.93 326.64,855.4 330.88,835.88 335.12,845.92 339.35,844.38 343.59,856 347.82,841.47 352.06,845.92 356.3,847.25 360.53,856.94 364.77,847.25 369,848.23 373.24,858.45 377.48,849.6 381.71,855.4 385.95,843.4 390.19,849.6 394.42,850.15 398.66,841.47 402.89,847.67 407.13,840.5 411.37,840.11 415.6,839.93 419.84,830.24 424.08,857.33 428.31,856.56 432.55,844.94 436.78,836.05 441.02,847.25 445.26,841.47 449.49,837.2 453.73,844.94 457.97,849.6 462.2,849.6 466.44,845.92 470.68,845.92 474.91,838.57 479.15,828.91 483.38,840.88 487.62,839.13 491.86,841.47 496.09,844 500.33,833.74 504.56,836.05 508.8,846.3 513.04,845.33 517.27,857.33 521.51,824.46 525.75,843.78 529.98,836.05 534.22,847.67" fill="none" stroke="#0000ff" stroke-width="1.5" stroke-linejoin="round"/>
<circle cx="220.74" cy="835.28" r="4.8" fill="#0000ff"/><circle cx="224.97" cy="859.85" r="4.8" fill="#0000ff"/><circle cx="229.21" cy="848.82" r="4.8" fill="#0000ff"/><circle cx="233.44" cy="834.68" r="4.8" fill="#0000ff"/><circle cx="237.68" cy="841.47" r="4.8" fill="#0000ff"/><circle cx="241.92" cy="826.95" r="4.8" fill="#0000ff"/><circle cx="246.15" cy="844.38" r="4.8" fill="#0000ff"/><circle cx="250.39" cy="841.47" r="4.8" fill="#0000ff"/><circle cx="254.63" cy="838.57" r="4.8" fill="#0000ff"/><circle cx="258.86" cy="846.3" r="4.8" fill="#0000ff"/><circle cx="263.1" cy="850.15" r="4.8" fill="#0000ff"/><circle cx="267.33" cy="848.82" r="4.8" fill="#0000ff"/><circle cx="271.57" cy="834.68" r="4.8" fill="#0000ff"/><circle cx="275.81" cy="842.42" r="4.8" fill="#0000ff"/><circle cx="280.04" cy="845.33" r="4.8" fill="#0000ff"/><circle cx="284.28" cy="852.67" r="4.8" fill="#0000ff"/><circle cx="288.52" cy="833.36" r="4.8" fill="#0000ff"/><circle cx="292.75" cy="834.3" r="4.8" fill="#0000ff"/><circle cx="296.99" cy="819.81" r="4.8" fill="#0000ff"/><circle cx="301.23" cy="843.78" r="4.8" fill="#0000ff"/><circle cx="305.46" cy="844.94" r="4.8" fill="#0000ff"/><circle cx="309.7" cy="834.68" r="4.8" fill="#0000ff"/><circle cx="313.93" cy="826.39" r="4.8" fill="#0000ff"/><circle cx="318.17" cy="860.79" r="4.8" fill="#0000ff"/><circle cx="322.41" cy="839.93" r="4.8" fill="#0000ff"/><circle cx="326.64" cy="855.4" r="4.8" fill="#0000ff"/><circle cx="330.88" cy="835.88" r="4.8" fill="#0000ff"/><circle cx="335.12" cy="845.92" r="4.8" fill="#0000ff"/><circle cx="339.35" cy="844.38" r="4.8" fill="#0000ff"/><circle cx="343.59" cy="856" r="4.8" fill="#0000ff"/><circle cx="347.82" cy="841.47" r="4.8" fill="#0000ff"/><circle cx="352.06" cy="845.92" r="4.8" fill="#0000ff"/><circle cx="356.3" cy="847.25" r="4.8" fill="#0000ff"/><circle cx="360.53" cy="856.94" r="4.8" fill="#0000ff"/><circle cx="364.77" cy="847.25" r="4.8" fill="#0000ff"/><circle cx="369" cy="848.23" r="4.8" fill="#0000ff"/><circle cx="373.24" cy="858.45" r="4.8" fill="#0000ff"/><circle cx="377.48" cy="849.6" r="4.8" fill="#0000ff"/><circle cx="381.71" cy="855.4" r="4.8" fill="#0000ff"/><circle cx="385.95" cy="843.4" r="4.8" fill="#0000ff"/><circle cx="390.19" cy="849.6" r="4.8" fill="#0000ff"/><circle cx="394.42" cy="850.15" r="4.8" fill="#0000ff"/><circle cx="398.66" cy="841.47" r="4.8" fill="#0000ff"/><circle cx="402.89" cy="847.67" r="4.8" fill="#0000ff"/><circle cx="407.13" cy="840.5" r="4.8" fill="#0000ff"/><circle cx="411.37" cy="840.11" r="4.8" fill="#0000ff"/><circle cx="415.6" cy="839.93" r="4.8" fill="#0000ff"/><circle cx="419.84" cy="830.24" r="4.8" fill="#0000ff"/><circle cx="424.08" cy="857.33" r="4.8" fill="#0000ff"/><circle cx="428.31" cy="856.56" r="4.8" fill="#0000ff"/><circle cx="432.55" cy="844.94" r="4.8" fill="#0000ff"/><circle cx="436.78" cy="836.05" r="4.8" fill="#0000ff"/><circle cx="441.02" cy="847.25" r="4.8" fill="#0000ff"/><circle cx="445.26" cy="841.47" r="4.8" fill="#0000ff"/><circle cx="449.49" cy="837.2" r="4.8" fill="#0000ff"/><circle cx="453.73" cy="844.94" r="4.8" fill="#0000ff"/><circle cx="457.97" cy="849.6" r="4.8" fill="#0000ff"/><circle cx="462.2" cy="849.6" r="4.8" fill="#0000ff"/><circle cx="466.44" cy="845.92" r="4.8" fill="#0000ff"/><circle cx="470.68" cy="845.92" r="4.8" fill="#0000ff"/><circle cx="474.91" cy="838.57" r="4.8" fill="#0000ff"/><circle cx="479.15" cy="828.91" r="4.8" fill="#0000ff"/><circle cx="483.38" cy="840.88" r="4.8" fill="#0000ff"/><circle cx="487.62" cy="839.13" r="4.8" fill="#0000ff"/><circle cx="491.86" cy="841.47" r="4.8" fill="#0000ff"/><circle cx="496.09" cy="844" r="4.8" fill="#0000ff"/><circle cx="500.33" cy="833.74" r="4.8" fill="#0000ff"/><circle cx="504.56" cy="836.05" r="4.8" fill="#0000ff"/><circle cx="508.8" cy="846.3" r="4.8" fill="#0000ff"/><circle cx="513.04" cy="845.33" r="4.8" fill="#0000ff"/><circle cx="517.27" cy="857.33" r="4.8" fill="#0000ff"/><circle cx="521.51" cy="824.46" r="4.8" fill="#0000ff"/><circle cx="525.75" cy="843.78" r="4.8" fill="#0000ff"/><circle cx="529.98" cy="836.05" r="4.8" fill="#0000ff"/><circle cx="534.22" cy="847.67" r="4.8" fill="#0000ff"/>
<rect x="461.5" y="674.5" width="91" height="34" fill="#ffffff" stroke="#b0b0b0" stroke-width="1"/>
<path d="M468.2 683.1H498.7" stroke="#ff0000" stroke-width="1.8"/>
<path d="M483.4 676.8L488.53 683.1L483.4 689.4L478.27 683.1Z" fill="#ff0000"/>
<path d="M468.2 699H498.7" stroke="#0000ff" stroke-width="1.8"/>
<circle cx="483.4" cy="699" r="4.8" fill="#0000ff"/>
<text transform="translate(502.5 687.41) scale(1.010 1.050)" font-family='"Liberation Sans", Arial, Helvetica, sans-serif' font-size="10" font-weight="normal" text-anchor="start" fill="#262626" stroke="#262626" stroke-width="0.25">EKF</text>
<text transform="translate(502.5 703.31) scale(1.010 1.050)" font-family='"Liberation Sans", Arial, Helvetica, sans-serif' font-size="10" font-weight="normal" text-anchor="start" fill="#262626" stroke="#262626" stroke-width="0.25">BD-AEKF</text>
</g>
</g>
</svg>
</body>
</html>
